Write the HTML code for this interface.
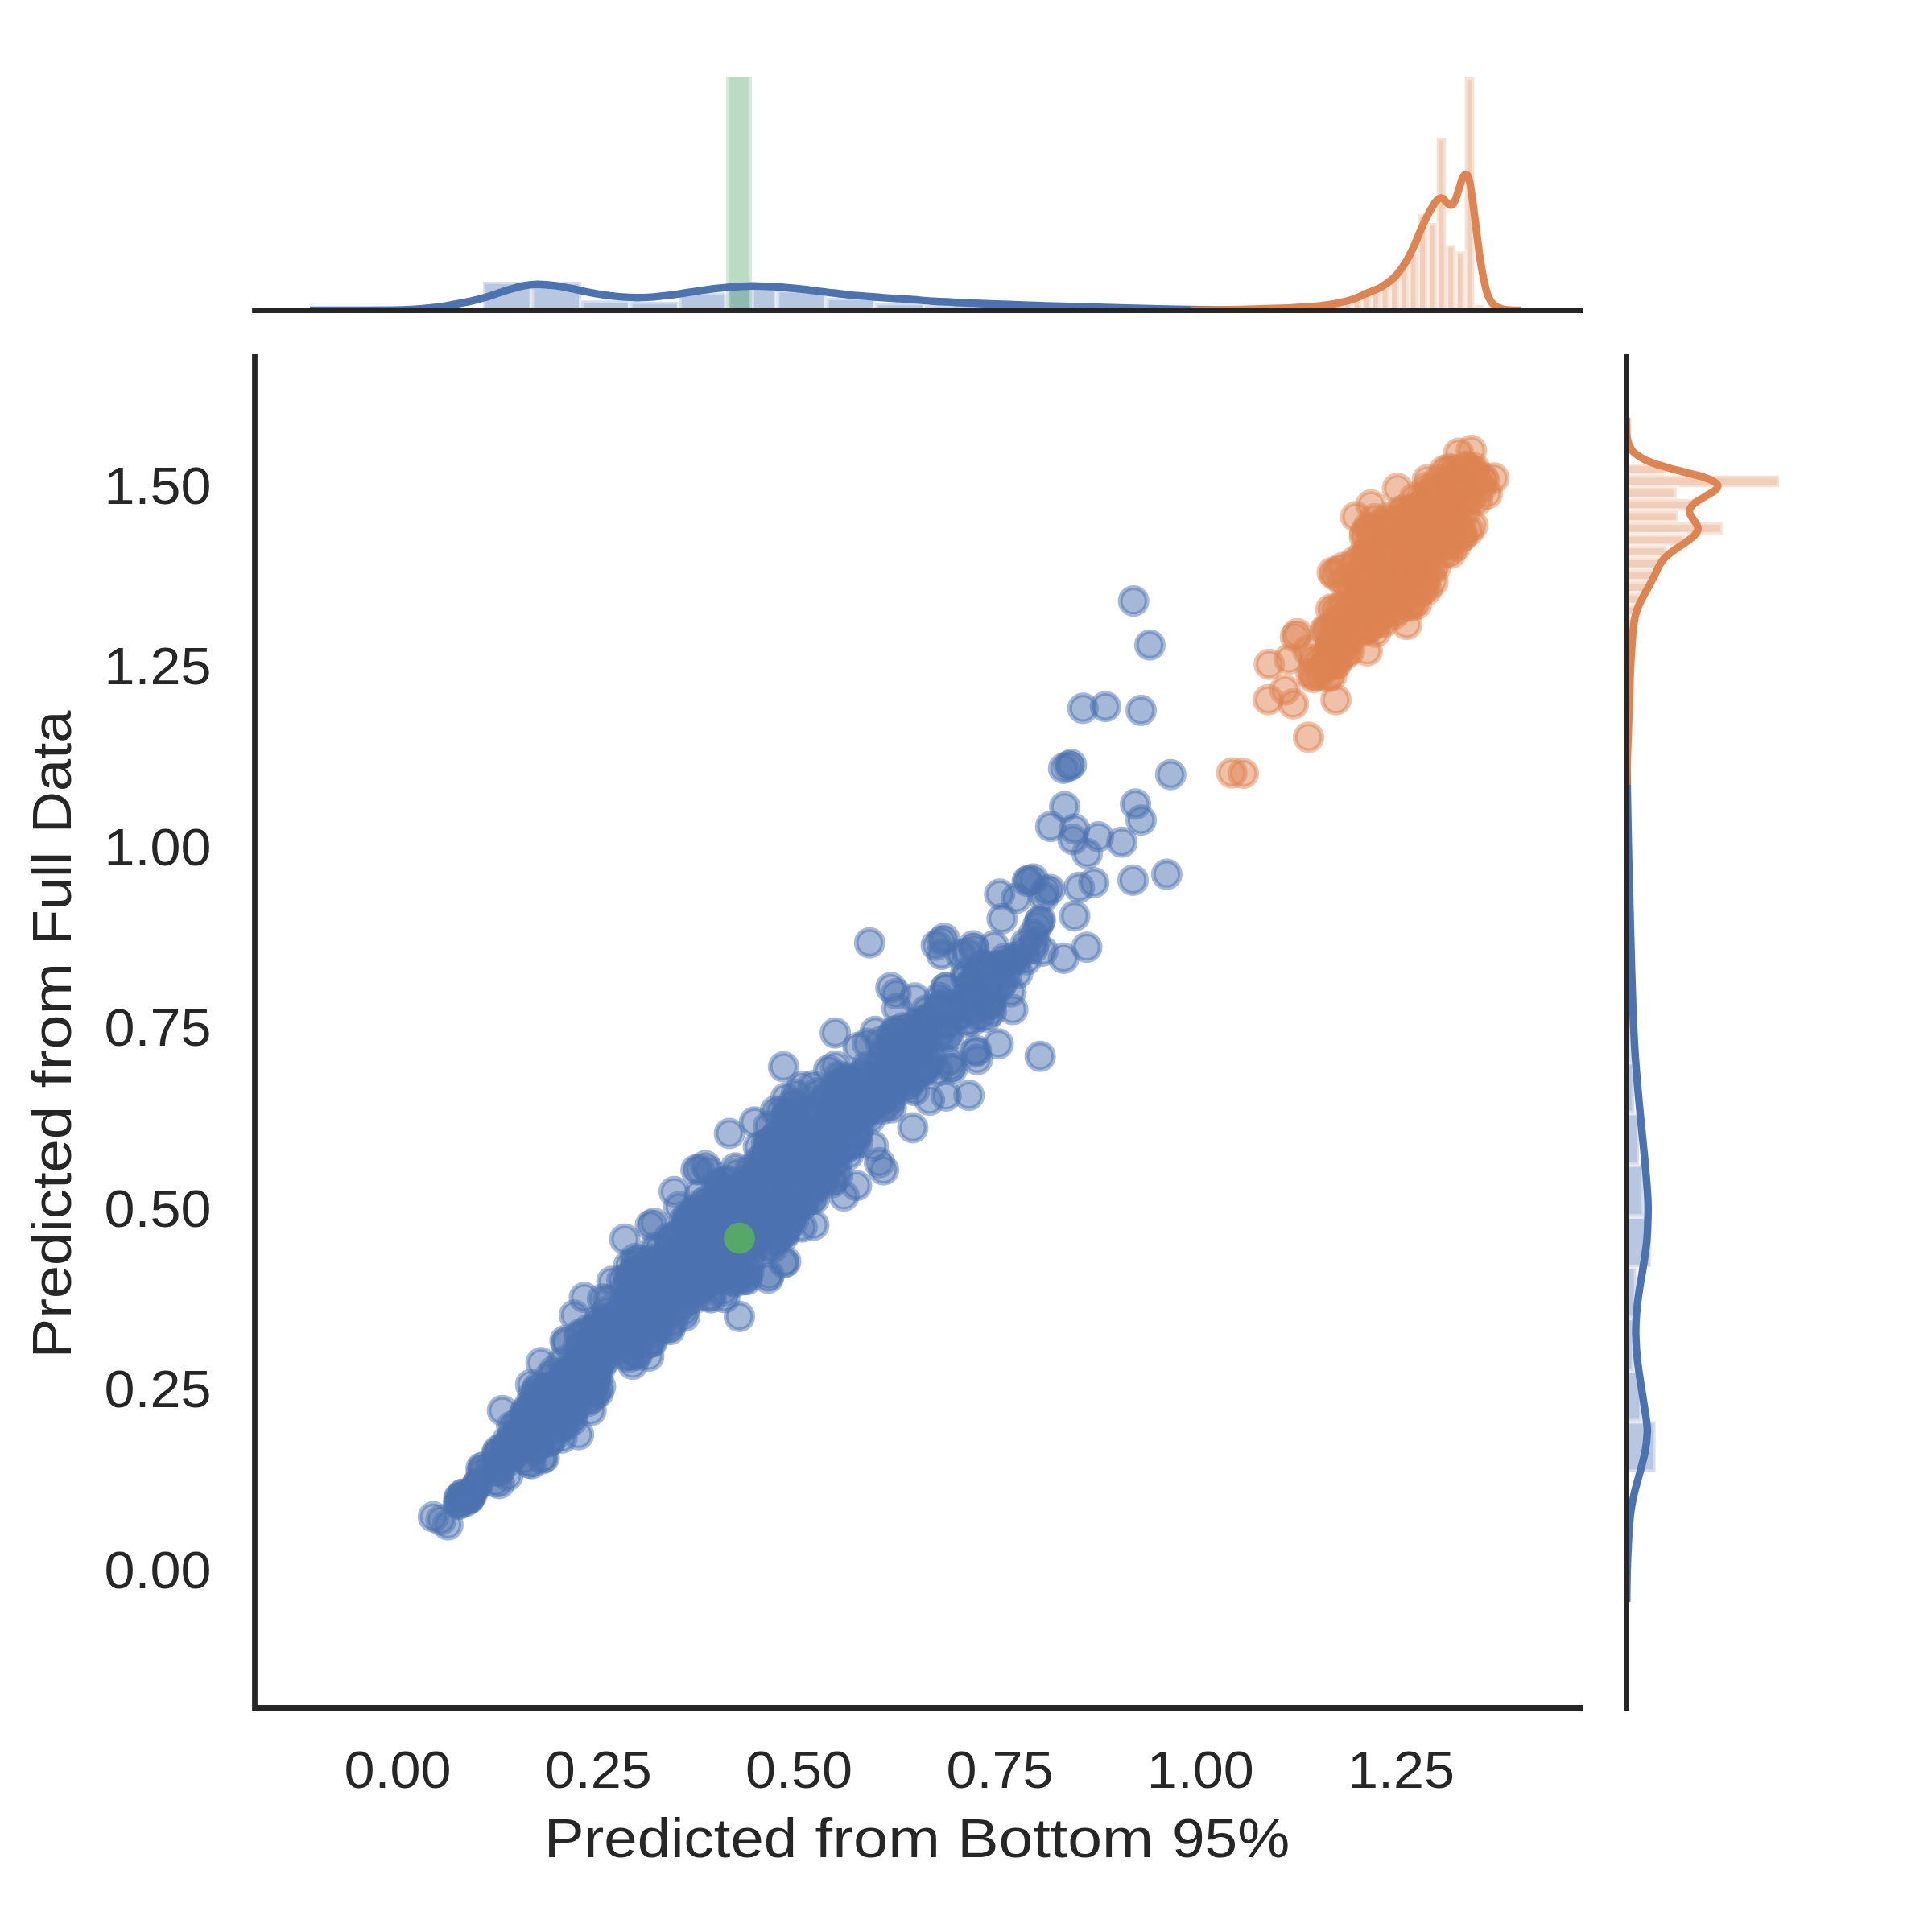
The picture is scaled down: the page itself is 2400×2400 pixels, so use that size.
<!DOCTYPE html>
<html><head><meta charset="utf-8"><title>jointplot</title>
<style>html,body{margin:0;padding:0;background:#fff}svg{display:block}</style></head>
<body>
<svg width="2400" height="2400" viewBox="0 0 2400 2400">
<rect width="2400" height="2400" fill="#fff"/>
<defs>
<circle id="b" r="16.6" fill="#4c72b0" fill-opacity=".5" stroke="#4c72b0" stroke-opacity=".5" stroke-width="5.9"/>
<circle id="o" r="16.6" fill="#dd8452" fill-opacity=".5" stroke="#dd8452" stroke-opacity=".5" stroke-width="5.9"/>
</defs>
<clipPath id="ct"><rect x="316.5" y="96" width="1647.1" height="289.5"/></clipPath>
<clipPath id="cr"><rect x="2020.5" y="443.4" width="300" height="1678.1"/></clipPath>
<g id="topm" clip-path="url(#ct)">
<g fill-opacity=".4" stroke="#fff" stroke-opacity=".4" stroke-width="5.8">
<rect x="600.2" y="350.1" width="60.3" height="45.4" fill="#4c72b0"/>
<rect x="660.5" y="350.1" width="61.5" height="45.4" fill="#4c72b0"/>
<rect x="722.0" y="373.2" width="61.0" height="22.3" fill="#4c72b0"/>
<rect x="783.0" y="374.8" width="60.8" height="20.7" fill="#4c72b0"/>
<rect x="843.8" y="363.5" width="60.7" height="32.0" fill="#4c72b0"/>
<rect x="904.5" y="351.3" width="60.8" height="44.2" fill="#4c72b0"/>
<rect x="965.3" y="360.5" width="61.5" height="35.0" fill="#4c72b0"/>
<rect x="1026.8" y="370.0" width="61.2" height="25.5" fill="#4c72b0"/>
<rect x="1088.0" y="376.4" width="61.0" height="19.1" fill="#4c72b0"/>
<rect x="1149.0" y="378.6" width="61.0" height="16.9" fill="#4c72b0"/>
<rect x="1210.0" y="380.4" width="61.0" height="15.1" fill="#4c72b0"/>
<rect x="1271.0" y="381.6" width="61.0" height="13.9" fill="#4c72b0"/>
<rect x="1831.2" y="378.9" width="11.7" height="16.6" fill="#dd8452"/>
<rect x="1819.6" y="96.1" width="11.7" height="299.4" fill="#dd8452"/>
<rect x="1807.9" y="312.3" width="11.7" height="83.2" fill="#dd8452"/>
<rect x="1796.2" y="304.3" width="11.7" height="91.2" fill="#dd8452"/>
<rect x="1784.6" y="171.4" width="11.7" height="224.1" fill="#dd8452"/>
<rect x="1772.9" y="277.0" width="11.7" height="118.5" fill="#dd8452"/>
<rect x="1761.2" y="266.2" width="11.7" height="129.3" fill="#dd8452"/>
<rect x="1749.5" y="315.5" width="11.7" height="80.0" fill="#dd8452"/>
<rect x="1737.9" y="330.8" width="11.7" height="64.7" fill="#dd8452"/>
<rect x="1726.2" y="345.2" width="11.7" height="50.3" fill="#dd8452"/>
<rect x="1714.5" y="356.5" width="11.7" height="39.0" fill="#dd8452"/>
<rect x="1702.9" y="361.3" width="11.7" height="34.2" fill="#dd8452"/>
<rect x="1691.2" y="360.0" width="11.7" height="35.5" fill="#dd8452"/>
<rect x="1679.5" y="371.5" width="11.7" height="24.0" fill="#dd8452"/>
<rect x="1667.9" y="375.5" width="11.7" height="20.0" fill="#dd8452"/>
<rect x="1656.2" y="377.5" width="11.7" height="18.0" fill="#dd8452"/>
<rect x="1644.5" y="379.5" width="11.7" height="16.0" fill="#dd8452"/>
<rect x="1632.8" y="381.0" width="11.7" height="14.5" fill="#dd8452"/>
<rect x="1621.2" y="382.0" width="11.7" height="13.5" fill="#dd8452"/>
<rect x="1609.5" y="382.8" width="11.7" height="12.7" fill="#dd8452"/>
<rect x="1597.8" y="383.3" width="11.7" height="12.2" fill="#dd8452"/>
<rect x="1586.2" y="383.8" width="11.7" height="11.7" fill="#dd8452"/>
<rect x="1574.5" y="384.2" width="11.7" height="11.3" fill="#dd8452"/>
<rect x="1562.8" y="384.5" width="11.7" height="11.0" fill="#dd8452"/>
<rect x="1551.2" y="384.8" width="11.7" height="10.7" fill="#dd8452"/>
<rect x="1539.5" y="385.0" width="11.7" height="10.5" fill="#dd8452"/>
<rect x="1527.8" y="385.0" width="11.7" height="10.5" fill="#dd8452"/>
<rect x="902.0" y="80.0" width="32.0" height="315.5" fill="#55a868"/>
</g>
<g fill="none" stroke-width="9.4" stroke-linejoin="round" stroke-linecap="butt">
<path d="M385.0 385.5C395.8 385.5 432.5 385.5 450.0 385.4C467.5 385.3 480.0 385.2 490.0 385.1C500.0 385.0 504.2 384.8 510.0 384.5C515.8 384.2 520.0 383.8 525.0 383.4C530.0 382.9 535.0 382.4 540.0 381.8C545.0 381.2 550.3 380.5 555.0 379.8C559.7 379.1 562.8 378.4 568.0 377.4C573.2 376.4 579.5 375.3 586.0 373.8C592.5 372.3 600.0 370.3 607.0 368.2C614.0 366.1 620.8 363.4 627.7 361.3C634.6 359.2 641.9 356.8 648.4 355.4C654.9 354.0 660.1 353.3 667.0 353.2C673.9 353.1 682.6 353.9 689.9 354.8C697.2 355.7 703.7 357.2 710.6 358.6C717.5 360.0 724.4 361.8 731.3 363.1C738.2 364.4 745.1 365.6 752.0 366.6C758.9 367.6 766.4 368.4 772.7 368.9C779.0 369.4 784.6 369.7 790.0 369.8C795.4 369.9 799.8 369.7 805.0 369.4C810.2 369.1 815.2 368.6 821.4 367.9C827.6 367.2 835.1 366.3 842.0 365.3C848.9 364.3 856.0 363.1 862.8 362.1C869.6 361.1 876.1 360.1 883.0 359.2C889.9 358.3 898.0 357.5 904.2 356.9C910.4 356.3 914.8 356.1 920.0 355.8C925.2 355.5 930.3 355.3 935.3 355.3C940.3 355.3 944.8 355.4 950.0 355.6C955.2 355.8 960.1 356.1 966.3 356.5C972.5 356.9 980.1 357.6 987.0 358.3C993.9 359.0 1000.9 359.8 1007.7 360.6C1014.5 361.4 1021.1 362.3 1028.0 363.1C1034.9 363.9 1042.2 364.9 1049.2 365.6C1056.2 366.4 1063.1 367.0 1070.0 367.6C1076.9 368.2 1083.8 368.8 1090.6 369.3C1097.4 369.8 1104.1 370.4 1111.0 370.8C1117.9 371.2 1123.8 371.4 1132.0 372.0C1140.2 372.6 1148.7 373.6 1160.0 374.3C1171.3 375.0 1184.5 375.6 1200.0 376.3C1215.5 377.0 1236.3 377.7 1253.0 378.3C1269.7 378.9 1284.5 379.4 1300.0 379.9C1315.5 380.4 1331.0 380.9 1346.0 381.3C1361.0 381.7 1374.4 382.1 1390.0 382.5C1405.6 382.9 1422.5 383.2 1439.5 383.6C1456.5 384.0 1475.2 384.4 1492.0 384.7C1508.8 385.0 1532.0 385.2 1540.0 385.3" stroke="#4c72b0"/>
<path d="M1480.0 385.4C1486.7 385.3 1506.7 385.1 1520.0 384.9C1533.3 384.7 1546.7 384.4 1560.0 384.0C1573.3 383.6 1589.2 383.1 1600.0 382.6C1610.8 382.1 1616.7 381.9 1625.0 381.2C1633.3 380.5 1642.2 379.8 1650.0 378.6C1657.8 377.5 1666.0 375.8 1672.0 374.3C1678.0 372.8 1681.3 371.4 1686.0 369.6C1690.7 367.8 1695.0 365.6 1700.0 363.4C1705.0 361.2 1710.7 359.7 1716.0 356.5C1721.3 353.3 1727.3 349.2 1732.1 344.4C1736.9 339.6 1741.2 333.4 1745.0 327.6C1748.8 321.9 1751.4 316.6 1754.6 309.9C1757.8 303.2 1761.3 294.1 1764.2 287.4C1767.1 280.7 1769.5 275.1 1772.2 269.8C1774.9 264.5 1778.2 258.8 1780.3 255.3C1782.4 251.8 1783.6 250.2 1785.1 248.6C1786.6 247.0 1787.9 246.3 1789.1 246.0C1790.3 245.7 1791.3 245.8 1792.5 246.6C1793.7 247.4 1795.1 249.7 1796.5 251.0C1797.9 252.3 1799.8 254.0 1801.1 254.5C1802.4 255.0 1803.4 255.0 1804.5 254.0C1805.6 253.0 1806.5 251.8 1807.8 248.5C1809.1 245.2 1811.0 238.8 1812.4 234.5C1813.8 230.2 1815.1 225.3 1816.2 222.5C1817.3 219.7 1818.2 218.8 1819.0 217.8C1819.8 216.8 1820.5 216.5 1821.2 216.6C1821.9 216.7 1822.7 217.1 1823.4 218.6C1824.1 220.1 1824.8 221.5 1825.6 225.5C1826.4 229.5 1827.4 235.7 1828.4 242.5C1829.4 249.3 1830.4 257.2 1831.6 266.6C1832.8 276.0 1834.3 288.5 1835.6 298.7C1836.9 308.9 1838.1 318.5 1839.6 327.6C1841.1 336.7 1842.9 346.4 1844.5 353.3C1846.1 360.2 1847.7 365.4 1849.3 369.3C1850.9 373.2 1852.2 374.9 1854.1 377.0C1856.0 379.1 1858.2 380.8 1860.5 382.0C1862.8 383.2 1865.3 383.8 1868.0 384.3C1870.7 384.9 1873.0 385.1 1876.6 385.3C1880.2 385.5 1887.3 385.5 1889.4 385.5" stroke="#dd8452"/>
</g>
</g>
<g id="rightm" clip-path="url(#cr)">
<g fill-opacity=".4" stroke="#fff" stroke-opacity=".4" stroke-width="5.8">
<rect x="2010.5" y="1765.5" width="46.1" height="62.7" fill="#4c72b0"/>
<rect x="2010.5" y="1702.8" width="28.7" height="62.7" fill="#4c72b0"/>
<rect x="2010.5" y="1637.2" width="19.2" height="65.6" fill="#4c72b0"/>
<rect x="2010.5" y="1573.8" width="22.1" height="63.4" fill="#4c72b0"/>
<rect x="2010.5" y="1511.1" width="40.1" height="62.7" fill="#4c72b0"/>
<rect x="2010.5" y="1446.6" width="31.2" height="64.5" fill="#4c72b0"/>
<rect x="2010.5" y="1382.4" width="25.4" height="64.2" fill="#4c72b0"/>
<rect x="2010.5" y="1319.3" width="19.8" height="63.1" fill="#4c72b0"/>
<rect x="2010.5" y="1256.2" width="16.5" height="63.1" fill="#4c72b0"/>
<rect x="2010.5" y="1193.0" width="14.7" height="63.2" fill="#4c72b0"/>
<rect x="2010.5" y="1130.0" width="13.5" height="63.0" fill="#4c72b0"/>
<rect x="2010.5" y="1067.0" width="12.5" height="63.0" fill="#4c72b0"/>
<rect x="2010.5" y="576.0" width="59.4" height="14.6" fill="#dd8452"/>
<rect x="2010.5" y="590.6" width="199.6" height="14.6" fill="#dd8452"/>
<rect x="2010.5" y="605.3" width="72.3" height="14.6" fill="#dd8452"/>
<rect x="2010.5" y="619.9" width="93.2" height="14.6" fill="#dd8452"/>
<rect x="2010.5" y="634.5" width="74.4" height="14.6" fill="#dd8452"/>
<rect x="2010.5" y="649.1" width="129.3" height="14.6" fill="#dd8452"/>
<rect x="2010.5" y="663.8" width="82.4" height="14.6" fill="#dd8452"/>
<rect x="2010.5" y="678.4" width="60.2" height="14.6" fill="#dd8452"/>
<rect x="2010.5" y="693.0" width="50.1" height="14.6" fill="#dd8452"/>
<rect x="2010.5" y="707.7" width="49.3" height="14.6" fill="#dd8452"/>
<rect x="2010.5" y="722.3" width="37.5" height="14.6" fill="#dd8452"/>
<rect x="2010.5" y="736.9" width="27.0" height="14.6" fill="#dd8452"/>
<rect x="2010.5" y="751.6" width="22.5" height="14.6" fill="#dd8452"/>
<rect x="2010.5" y="766.2" width="19.0" height="14.6" fill="#dd8452"/>
<rect x="2010.5" y="780.8" width="17.0" height="14.6" fill="#dd8452"/>
<rect x="2010.5" y="795.5" width="15.5" height="14.6" fill="#dd8452"/>
<rect x="2010.5" y="810.1" width="14.5" height="14.6" fill="#dd8452"/>
<rect x="2010.5" y="824.7" width="13.8" height="14.6" fill="#dd8452"/>
<rect x="2010.5" y="839.3" width="13.1" height="14.6" fill="#dd8452"/>
<rect x="2010.5" y="854.0" width="12.5" height="14.6" fill="#dd8452"/>
<rect x="2010.5" y="868.6" width="12.0" height="14.6" fill="#dd8452"/>
<rect x="2010.5" y="883.2" width="11.5" height="14.6" fill="#dd8452"/>
<rect x="2010.5" y="897.9" width="11.1" height="14.6" fill="#dd8452"/>
<rect x="2010.5" y="912.5" width="10.8" height="14.6" fill="#dd8452"/>
<rect x="2010.5" y="927.1" width="10.5" height="14.6" fill="#dd8452"/>
<rect x="2010.5" y="941.8" width="10.4" height="14.6" fill="#dd8452"/>
</g>
<g fill="none" stroke-width="9.4" stroke-linejoin="round" stroke-linecap="butt">
<path d="M2020.8 930.0C2021.0 941.7 2021.4 976.7 2021.8 1000.0C2022.2 1023.3 2022.7 1048.3 2023.2 1070.0C2023.7 1091.7 2024.3 1110.0 2024.8 1130.0C2025.3 1150.0 2025.8 1170.0 2026.4 1190.0C2027.0 1210.0 2027.5 1229.7 2028.3 1250.0C2029.1 1270.3 2030.0 1291.4 2031.4 1312.1C2032.8 1332.8 2034.7 1353.4 2036.6 1374.1C2038.5 1394.8 2041.2 1419.0 2042.8 1436.2C2044.4 1453.5 2045.5 1466.6 2046.3 1477.6C2047.0 1488.6 2047.4 1492.1 2047.3 1502.4C2047.2 1512.8 2046.8 1528.3 2045.9 1539.7C2045.0 1551.1 2043.2 1560.4 2041.7 1570.7C2040.2 1581.0 2038.0 1591.7 2036.6 1601.7C2035.1 1611.8 2033.8 1621.6 2033.0 1631.0C2032.2 1640.4 2031.8 1647.6 2032.0 1657.9C2032.2 1668.2 2033.0 1680.3 2034.5 1693.1C2036.0 1705.9 2038.9 1722.4 2040.7 1734.5C2042.5 1746.6 2044.5 1757.9 2045.4 1765.5C2046.3 1773.1 2046.6 1773.8 2046.3 1780.0C2046.0 1786.2 2045.2 1794.9 2043.8 1802.8C2042.3 1810.7 2039.8 1819.0 2037.6 1827.6C2035.3 1836.2 2032.3 1845.9 2030.3 1854.5C2028.3 1863.1 2026.8 1870.0 2025.6 1879.3C2024.4 1888.6 2023.8 1898.5 2023.1 1910.3C2022.4 1922.1 2021.8 1936.7 2021.4 1950.0C2021.0 1963.3 2020.8 1983.3 2020.7 1990.0" stroke="#4c72b0"/>
<path d="M2020.5 519.0C2020.5 520.8 2020.5 526.7 2020.6 530.0C2020.7 533.3 2020.7 536.3 2020.9 539.0C2021.1 541.7 2021.3 543.8 2021.8 546.0C2022.2 548.2 2022.8 550.4 2023.6 552.4C2024.4 554.4 2025.4 556.2 2026.6 558.0C2027.8 559.8 2027.7 560.9 2031.0 563.3C2034.3 565.7 2040.1 569.8 2046.6 572.6C2053.1 575.5 2062.1 578.1 2069.9 580.4C2077.7 582.7 2085.4 584.5 2093.2 586.6C2101.0 588.7 2110.6 590.9 2116.5 592.8C2122.4 594.7 2126.0 596.5 2128.9 598.2C2131.8 599.9 2133.7 601.1 2133.9 602.9C2134.2 604.7 2133.1 606.8 2130.4 609.1C2127.8 611.4 2122.1 614.3 2118.0 616.9C2113.9 619.5 2108.7 622.1 2105.6 624.6C2102.5 627.1 2100.5 629.5 2099.4 631.6C2098.3 633.7 2098.4 634.9 2098.9 637.0C2099.4 639.1 2101.0 641.5 2102.5 644.0C2104.0 646.5 2106.8 649.5 2107.9 651.8C2109.0 654.1 2109.6 655.9 2109.2 658.0C2108.8 660.1 2107.8 661.9 2105.6 664.2C2103.4 666.5 2099.9 669.3 2096.3 672.0C2092.7 674.7 2088.1 677.5 2083.9 680.5C2079.8 683.5 2074.8 686.8 2071.4 689.8C2068.0 692.8 2065.8 695.5 2063.7 698.4C2061.6 701.2 2060.6 703.8 2059.0 706.9C2057.4 710.0 2056.1 713.4 2054.3 717.0C2052.5 720.6 2050.3 724.7 2048.1 728.7C2045.9 732.7 2043.3 736.8 2041.1 741.1C2038.9 745.4 2036.6 750.0 2034.9 754.3C2033.2 758.6 2032.1 762.1 2031.1 766.7C2030.1 771.4 2029.3 776.5 2028.7 782.2C2028.1 787.9 2027.7 793.4 2027.2 800.9C2026.7 808.4 2026.1 817.4 2025.6 827.3C2025.1 837.1 2024.8 847.9 2024.4 860.0C2024.0 872.1 2023.5 886.7 2023.0 900.0C2022.5 913.3 2022.0 927.5 2021.6 940.0C2021.2 952.5 2020.8 969.2 2020.7 975.0" stroke="#dd8452"/>
</g>
</g>
<g id="sc">
<use href="#b" x="1158.3" y="1314.4"/>
<use href="#b" x="884.5" y="1522.9"/>
<use href="#b" x="936.4" y="1465.6"/>
<use href="#b" x="1011.3" y="1437.8"/>
<use href="#b" x="987.7" y="1499.9"/>
<use href="#b" x="969.4" y="1442.8"/>
<use href="#b" x="1004.8" y="1452.8"/>
<use href="#b" x="1036.4" y="1444.2"/>
<use href="#b" x="664.5" y="1744.6"/>
<use href="#b" x="884.0" y="1529.6"/>
<use href="#b" x="723.8" y="1674.1"/>
<use href="#b" x="1274.0" y="1172.1"/>
<use href="#b" x="1004.8" y="1408.4"/>
<use href="#b" x="796.4" y="1586.5"/>
<use href="#b" x="1054.9" y="1419.6"/>
<use href="#b" x="1064.5" y="1374.6"/>
<use href="#b" x="789.1" y="1612.2"/>
<use href="#b" x="1247.9" y="1190.9"/>
<use href="#b" x="1074.2" y="1387.2"/>
<use href="#b" x="668.6" y="1796.5"/>
<use href="#b" x="831.8" y="1601.1"/>
<use href="#b" x="1106.1" y="1341.5"/>
<use href="#b" x="992.1" y="1465.6"/>
<use href="#b" x="618.0" y="1807.3"/>
<use href="#b" x="750.3" y="1638.3"/>
<use href="#b" x="943.4" y="1517.0"/>
<use href="#b" x="654.8" y="1796.5"/>
<use href="#b" x="653.3" y="1789.0"/>
<use href="#b" x="978.1" y="1423.0"/>
<use href="#b" x="1200.6" y="1269.4"/>
<use href="#b" x="999.2" y="1441.2"/>
<use href="#b" x="667.9" y="1723.4"/>
<use href="#b" x="807.9" y="1638.9"/>
<use href="#b" x="737.0" y="1653.7"/>
<use href="#b" x="925.5" y="1524.1"/>
<use href="#b" x="864.0" y="1508.3"/>
<use href="#b" x="825.1" y="1584.2"/>
<use href="#b" x="682.7" y="1790.8"/>
<use href="#b" x="729.7" y="1678.1"/>
<use href="#b" x="1151.6" y="1291.5"/>
<use href="#b" x="921.1" y="1491.6"/>
<use href="#b" x="628.4" y="1791.9"/>
<use href="#b" x="1255.8" y="1196.5"/>
<use href="#b" x="1022.7" y="1371.1"/>
<use href="#b" x="886.5" y="1589.7"/>
<use href="#b" x="737.6" y="1697.1"/>
<use href="#b" x="743.1" y="1729.9"/>
<use href="#b" x="1042.3" y="1383.1"/>
<use href="#b" x="887.0" y="1514.9"/>
<use href="#b" x="1003.9" y="1443.2"/>
<use href="#b" x="1028.7" y="1424.2"/>
<use href="#b" x="967.2" y="1432.7"/>
<use href="#b" x="739.6" y="1687.8"/>
<use href="#b" x="1084.6" y="1359.6"/>
<use href="#b" x="904.8" y="1582.5"/>
<use href="#b" x="949.9" y="1434.9"/>
<use href="#b" x="1185.2" y="1253.8"/>
<use href="#b" x="652.9" y="1757.8"/>
<use href="#b" x="790.2" y="1577.7"/>
<use href="#b" x="773.1" y="1620.0"/>
<use href="#b" x="1125.4" y="1341.9"/>
<use href="#b" x="878.6" y="1509.8"/>
<use href="#b" x="625.1" y="1808.4"/>
<use href="#b" x="895.9" y="1479.6"/>
<use href="#b" x="1164.6" y="1330.0"/>
<use href="#b" x="1142.3" y="1313.6"/>
<use href="#b" x="947.5" y="1507.4"/>
<use href="#b" x="787.5" y="1632.3"/>
<use href="#b" x="574.4" y="1856.6"/>
<use href="#b" x="1283.5" y="1177.9"/>
<use href="#b" x="685.6" y="1787.9"/>
<use href="#b" x="1089.9" y="1343.0"/>
<use href="#b" x="1167.3" y="1249.5"/>
<use href="#b" x="995.5" y="1422.7"/>
<use href="#b" x="689.9" y="1744.6"/>
<use href="#b" x="906.1" y="1578.3"/>
<use href="#b" x="1062.7" y="1359.0"/>
<use href="#b" x="725.2" y="1671.1"/>
<use href="#b" x="963.2" y="1380.1"/>
<use href="#b" x="901.3" y="1555.7"/>
<use href="#b" x="753.9" y="1643.7"/>
<use href="#b" x="1015.0" y="1358.4"/>
<use href="#b" x="1032.0" y="1412.0"/>
<use href="#b" x="871.4" y="1495.2"/>
<use href="#b" x="686.2" y="1776.3"/>
<use href="#b" x="899.7" y="1509.4"/>
<use href="#b" x="1231.3" y="1239.8"/>
<use href="#b" x="939.0" y="1538.3"/>
<use href="#b" x="970.5" y="1442.8"/>
<use href="#b" x="941.1" y="1513.1"/>
<use href="#b" x="1239.3" y="1199.2"/>
<use href="#b" x="784.9" y="1652.0"/>
<use href="#b" x="756.0" y="1614.6"/>
<use href="#b" x="1011.3" y="1476.0"/>
<use href="#b" x="880.4" y="1525.7"/>
<use href="#b" x="853.7" y="1573.1"/>
<use href="#b" x="976.3" y="1387.8"/>
<use href="#b" x="781.0" y="1634.0"/>
<use href="#b" x="1148.4" y="1326.1"/>
<use href="#b" x="787.0" y="1658.9"/>
<use href="#b" x="1024.7" y="1396.7"/>
<use href="#b" x="813.4" y="1549.8"/>
<use href="#b" x="975.3" y="1455.6"/>
<use href="#b" x="1027.0" y="1449.4"/>
<use href="#b" x="900.3" y="1476.4"/>
<use href="#b" x="965.2" y="1536.3"/>
<use href="#b" x="698.1" y="1786.5"/>
<use href="#b" x="1029.6" y="1403.7"/>
<use href="#b" x="1106.6" y="1287.8"/>
<use href="#b" x="1170.7" y="1252.5"/>
<use href="#b" x="1052.1" y="1350.7"/>
<use href="#b" x="1093.5" y="1368.2"/>
<use href="#b" x="1232.6" y="1210.7"/>
<use href="#b" x="937.4" y="1514.3"/>
<use href="#b" x="881.2" y="1610.4"/>
<use href="#b" x="870.2" y="1559.4"/>
<use href="#b" x="637.1" y="1807.9"/>
<use href="#b" x="925.7" y="1465.7"/>
<use href="#b" x="721.4" y="1671.3"/>
<use href="#b" x="865.0" y="1605.7"/>
<use href="#b" x="912.6" y="1572.4"/>
<use href="#b" x="810.0" y="1667.3"/>
<use href="#b" x="1231.5" y="1247.0"/>
<use href="#b" x="1044.0" y="1372.5"/>
<use href="#b" x="890.0" y="1566.1"/>
<use href="#b" x="1110.0" y="1300.9"/>
<use href="#b" x="582.8" y="1861.0"/>
<use href="#b" x="712.0" y="1700.5"/>
<use href="#b" x="816.2" y="1648.9"/>
<use href="#b" x="914.2" y="1581.3"/>
<use href="#b" x="899.6" y="1537.9"/>
<use href="#b" x="830.1" y="1612.0"/>
<use href="#b" x="927.8" y="1589.7"/>
<use href="#b" x="679.6" y="1757.7"/>
<use href="#b" x="676.1" y="1767.7"/>
<use href="#b" x="955.9" y="1547.3"/>
<use href="#b" x="682.7" y="1710.3"/>
<use href="#b" x="812.6" y="1606.2"/>
<use href="#b" x="1145.0" y="1284.7"/>
<use href="#b" x="942.1" y="1548.8"/>
<use href="#b" x="738.4" y="1649.2"/>
<use href="#b" x="860.8" y="1526.5"/>
<use href="#b" x="682.7" y="1723.3"/>
<use href="#b" x="1004.2" y="1386.0"/>
<use href="#b" x="890.1" y="1470.2"/>
<use href="#b" x="785.5" y="1665.9"/>
<use href="#b" x="786.3" y="1638.3"/>
<use href="#b" x="1285.5" y="1169.7"/>
<use href="#b" x="1029.3" y="1393.4"/>
<use href="#b" x="803.6" y="1623.2"/>
<use href="#b" x="1066.4" y="1363.6"/>
<use href="#b" x="770.1" y="1652.5"/>
<use href="#b" x="904.1" y="1466.7"/>
<use href="#b" x="790.3" y="1583.4"/>
<use href="#b" x="810.0" y="1646.1"/>
<use href="#b" x="1009.9" y="1348.7"/>
<use href="#b" x="1191.3" y="1261.4"/>
<use href="#b" x="1038.2" y="1378.6"/>
<use href="#b" x="1131.1" y="1343.7"/>
<use href="#b" x="1275.1" y="1192.2"/>
<use href="#b" x="989.3" y="1359.2"/>
<use href="#b" x="975.4" y="1530.7"/>
<use href="#b" x="920.4" y="1518.4"/>
<use href="#b" x="974.6" y="1462.2"/>
<use href="#b" x="1140.5" y="1288.7"/>
<use href="#b" x="820.2" y="1599.3"/>
<use href="#b" x="707.2" y="1730.1"/>
<use href="#b" x="698.3" y="1715.2"/>
<use href="#b" x="569.8" y="1868.8"/>
<use href="#b" x="707.7" y="1700.3"/>
<use href="#b" x="947.6" y="1452.4"/>
<use href="#b" x="682.4" y="1790.1"/>
<use href="#b" x="832.5" y="1574.6"/>
<use href="#b" x="979.0" y="1502.0"/>
<use href="#b" x="1221.2" y="1199.9"/>
<use href="#b" x="950.8" y="1439.0"/>
<use href="#b" x="933.2" y="1566.0"/>
<use href="#b" x="931.7" y="1452.9"/>
<use href="#b" x="1063.8" y="1411.5"/>
<use href="#b" x="883.8" y="1565.8"/>
<use href="#b" x="901.2" y="1578.8"/>
<use href="#b" x="914.2" y="1532.3"/>
<use href="#b" x="702.5" y="1771.5"/>
<use href="#b" x="915.3" y="1457.1"/>
<use href="#b" x="727.2" y="1714.4"/>
<use href="#b" x="755.0" y="1681.2"/>
<use href="#b" x="794.7" y="1595.2"/>
<use href="#b" x="1132.8" y="1290.4"/>
<use href="#b" x="830.6" y="1553.1"/>
<use href="#b" x="1124.2" y="1342.1"/>
<use href="#b" x="699.2" y="1770.9"/>
<use href="#b" x="788.0" y="1630.7"/>
<use href="#b" x="733.9" y="1681.1"/>
<use href="#b" x="629.0" y="1797.1"/>
<use href="#b" x="729.9" y="1652.1"/>
<use href="#b" x="712.3" y="1706.1"/>
<use href="#b" x="682.3" y="1745.9"/>
<use href="#b" x="1008.4" y="1415.6"/>
<use href="#b" x="1220.9" y="1198.2"/>
<use href="#b" x="736.8" y="1713.4"/>
<use href="#b" x="1047.4" y="1344.3"/>
<use href="#b" x="1077.5" y="1381.0"/>
<use href="#b" x="738.9" y="1715.1"/>
<use href="#b" x="795.7" y="1594.4"/>
<use href="#b" x="844.9" y="1572.7"/>
<use href="#b" x="724.0" y="1691.4"/>
<use href="#b" x="1017.6" y="1447.1"/>
<use href="#b" x="863.0" y="1551.4"/>
<use href="#b" x="870.1" y="1602.0"/>
<use href="#b" x="841.9" y="1581.8"/>
<use href="#b" x="751.5" y="1653.2"/>
<use href="#b" x="827.6" y="1613.8"/>
<use href="#b" x="694.5" y="1749.1"/>
<use href="#b" x="1103.9" y="1358.7"/>
<use href="#b" x="731.3" y="1703.8"/>
<use href="#b" x="678.1" y="1749.2"/>
<use href="#b" x="945.9" y="1480.2"/>
<use href="#b" x="1031.1" y="1402.7"/>
<use href="#b" x="1038.3" y="1385.7"/>
<use href="#b" x="1225.9" y="1249.4"/>
<use href="#b" x="1149.1" y="1267.9"/>
<use href="#b" x="753.9" y="1664.5"/>
<use href="#b" x="593.4" y="1843.8"/>
<use href="#b" x="697.7" y="1748.9"/>
<use href="#b" x="1024.2" y="1466.5"/>
<use href="#b" x="1048.0" y="1426.3"/>
<use href="#b" x="908.6" y="1483.3"/>
<use href="#b" x="736.7" y="1670.6"/>
<use href="#b" x="999.1" y="1434.3"/>
<use href="#b" x="945.6" y="1531.5"/>
<use href="#b" x="675.4" y="1728.5"/>
<use href="#b" x="880.3" y="1582.4"/>
<use href="#b" x="1066.1" y="1402.7"/>
<use href="#b" x="856.7" y="1577.2"/>
<use href="#b" x="1206.8" y="1254.6"/>
<use href="#b" x="795.7" y="1586.1"/>
<use href="#b" x="792.6" y="1650.8"/>
<use href="#b" x="899.7" y="1548.2"/>
<use href="#b" x="600.3" y="1822.6"/>
<use href="#b" x="1142.7" y="1332.3"/>
<use href="#b" x="1031.4" y="1419.0"/>
<use href="#b" x="942.4" y="1503.1"/>
<use href="#b" x="885.4" y="1497.3"/>
<use href="#b" x="1076.5" y="1324.9"/>
<use href="#b" x="738.8" y="1732.1"/>
<use href="#b" x="1040.7" y="1459.7"/>
<use href="#b" x="758.6" y="1660.1"/>
<use href="#b" x="684.6" y="1760.9"/>
<use href="#b" x="848.5" y="1596.6"/>
<use href="#b" x="960.3" y="1524.6"/>
<use href="#b" x="954.4" y="1399.3"/>
<use href="#b" x="1078.3" y="1367.7"/>
<use href="#b" x="1044.1" y="1408.5"/>
<use href="#b" x="615.6" y="1840.6"/>
<use href="#b" x="942.1" y="1424.5"/>
<use href="#b" x="905.6" y="1480.9"/>
<use href="#b" x="741.6" y="1696.4"/>
<use href="#b" x="1018.7" y="1422.6"/>
<use href="#b" x="750.9" y="1689.9"/>
<use href="#b" x="1088.5" y="1370.2"/>
<use href="#b" x="1176.1" y="1272.2"/>
<use href="#b" x="709.7" y="1703.5"/>
<use href="#b" x="1039.3" y="1432.0"/>
<use href="#b" x="875.4" y="1594.5"/>
<use href="#b" x="964.6" y="1484.6"/>
<use href="#b" x="701.9" y="1704.0"/>
<use href="#b" x="988.0" y="1384.3"/>
<use href="#b" x="1015.6" y="1429.7"/>
<use href="#b" x="1048.0" y="1378.7"/>
<use href="#b" x="684.7" y="1765.9"/>
<use href="#b" x="1217.0" y="1262.5"/>
<use href="#b" x="695.7" y="1742.3"/>
<use href="#b" x="701.9" y="1746.9"/>
<use href="#b" x="686.6" y="1767.1"/>
<use href="#b" x="864.8" y="1502.1"/>
<use href="#b" x="1036.1" y="1349.8"/>
<use href="#b" x="739.6" y="1712.1"/>
<use href="#b" x="829.1" y="1582.7"/>
<use href="#b" x="738.5" y="1720.3"/>
<use href="#b" x="863.8" y="1601.1"/>
<use href="#b" x="975.3" y="1505.9"/>
<use href="#b" x="1050.9" y="1399.7"/>
<use href="#b" x="663.6" y="1801.2"/>
<use href="#b" x="727.0" y="1705.0"/>
<use href="#b" x="901.8" y="1554.1"/>
<use href="#b" x="1123.6" y="1301.0"/>
<use href="#b" x="963.2" y="1411.9"/>
<use href="#b" x="1005.0" y="1436.2"/>
<use href="#b" x="921.5" y="1514.8"/>
<use href="#b" x="887.4" y="1583.3"/>
<use href="#b" x="973.6" y="1441.6"/>
<use href="#b" x="864.5" y="1612.1"/>
<use href="#b" x="1129.5" y="1325.2"/>
<use href="#b" x="985.5" y="1474.2"/>
<use href="#b" x="1012.5" y="1464.3"/>
<use href="#b" x="791.4" y="1683.8"/>
<use href="#b" x="1037.7" y="1428.3"/>
<use href="#b" x="900.3" y="1481.1"/>
<use href="#b" x="944.2" y="1529.6"/>
<use href="#b" x="833.8" y="1600.5"/>
<use href="#b" x="1090.2" y="1352.0"/>
<use href="#b" x="914.9" y="1490.5"/>
<use href="#b" x="1010.6" y="1404.0"/>
<use href="#b" x="1205.2" y="1221.8"/>
<use href="#b" x="955.1" y="1499.2"/>
<use href="#b" x="590.8" y="1847.7"/>
<use href="#b" x="649.4" y="1779.4"/>
<use href="#b" x="1007.3" y="1412.8"/>
<use href="#b" x="790.9" y="1670.0"/>
<use href="#b" x="783.6" y="1667.7"/>
<use href="#b" x="864.3" y="1554.8"/>
<use href="#b" x="620.1" y="1827.9"/>
<use href="#b" x="964.9" y="1518.6"/>
<use href="#b" x="973.8" y="1440.7"/>
<use href="#b" x="833.9" y="1590.0"/>
<use href="#b" x="918.9" y="1585.9"/>
<use href="#b" x="1200.8" y="1235.9"/>
<use href="#b" x="736.6" y="1725.8"/>
<use href="#b" x="894.5" y="1584.7"/>
<use href="#b" x="856.7" y="1513.2"/>
<use href="#b" x="1243.0" y="1225.1"/>
<use href="#b" x="752.6" y="1676.6"/>
<use href="#b" x="1081.3" y="1389.8"/>
<use href="#b" x="744.9" y="1694.0"/>
<use href="#b" x="734.3" y="1737.4"/>
<use href="#b" x="1107.2" y="1376.1"/>
<use href="#b" x="855.7" y="1515.1"/>
<use href="#b" x="777.1" y="1670.0"/>
<use href="#b" x="933.7" y="1510.0"/>
<use href="#b" x="720.8" y="1707.6"/>
<use href="#b" x="1091.1" y="1343.6"/>
<use href="#b" x="1067.8" y="1345.0"/>
<use href="#b" x="902.6" y="1575.7"/>
<use href="#b" x="925.4" y="1484.3"/>
<use href="#b" x="810.0" y="1572.6"/>
<use href="#b" x="641.6" y="1769.2"/>
<use href="#b" x="933.3" y="1475.7"/>
<use href="#b" x="914.2" y="1556.6"/>
<use href="#b" x="1053.2" y="1338.0"/>
<use href="#b" x="1103.8" y="1320.4"/>
<use href="#b" x="966.9" y="1456.3"/>
<use href="#b" x="814.9" y="1615.2"/>
<use href="#b" x="729.8" y="1678.8"/>
<use href="#b" x="666.6" y="1727.6"/>
<use href="#b" x="742.8" y="1673.6"/>
<use href="#b" x="878.4" y="1490.7"/>
<use href="#b" x="962.7" y="1484.0"/>
<use href="#b" x="941.0" y="1541.7"/>
<use href="#b" x="974.7" y="1518.0"/>
<use href="#b" x="930.3" y="1469.8"/>
<use href="#b" x="824.7" y="1630.4"/>
<use href="#b" x="643.9" y="1781.7"/>
<use href="#b" x="784.2" y="1622.0"/>
<use href="#b" x="1021.4" y="1425.4"/>
<use href="#b" x="1000.7" y="1489.6"/>
<use href="#b" x="929.8" y="1521.1"/>
<use href="#b" x="928.2" y="1510.4"/>
<use href="#b" x="893.1" y="1520.3"/>
<use href="#b" x="710.9" y="1764.6"/>
<use href="#b" x="894.9" y="1531.0"/>
<use href="#b" x="952.9" y="1529.1"/>
<use href="#b" x="1033.3" y="1433.9"/>
<use href="#b" x="1098.6" y="1305.4"/>
<use href="#b" x="833.0" y="1603.5"/>
<use href="#b" x="730.8" y="1696.7"/>
<use href="#b" x="781.4" y="1571.2"/>
<use href="#b" x="1004.2" y="1432.1"/>
<use href="#b" x="1113.4" y="1280.4"/>
<use href="#b" x="987.1" y="1372.9"/>
<use href="#b" x="915.2" y="1519.0"/>
<use href="#b" x="838.7" y="1565.4"/>
<use href="#b" x="716.4" y="1746.0"/>
<use href="#b" x="908.9" y="1571.6"/>
<use href="#b" x="690.4" y="1751.6"/>
<use href="#b" x="690.3" y="1751.3"/>
<use href="#b" x="1214.9" y="1207.9"/>
<use href="#b" x="925.7" y="1536.2"/>
<use href="#b" x="930.2" y="1580.0"/>
<use href="#b" x="652.9" y="1753.3"/>
<use href="#b" x="1080.5" y="1378.7"/>
<use href="#b" x="825.1" y="1610.0"/>
<use href="#b" x="657.4" y="1786.9"/>
<use href="#b" x="903.2" y="1578.8"/>
<use href="#b" x="894.1" y="1532.8"/>
<use href="#b" x="794.5" y="1642.5"/>
<use href="#b" x="713.4" y="1714.7"/>
<use href="#b" x="982.3" y="1401.6"/>
<use href="#b" x="725.5" y="1730.0"/>
<use href="#b" x="784.0" y="1605.3"/>
<use href="#b" x="1010.4" y="1454.6"/>
<use href="#b" x="794.3" y="1565.5"/>
<use href="#b" x="1053.6" y="1343.8"/>
<use href="#b" x="1046.9" y="1381.7"/>
<use href="#b" x="966.3" y="1519.3"/>
<use href="#b" x="895.8" y="1569.7"/>
<use href="#b" x="1106.2" y="1300.9"/>
<use href="#b" x="635.5" y="1802.0"/>
<use href="#b" x="808.4" y="1642.1"/>
<use href="#b" x="973.1" y="1474.5"/>
<use href="#b" x="733.7" y="1708.5"/>
<use href="#b" x="955.6" y="1419.7"/>
<use href="#b" x="776.0" y="1647.5"/>
<use href="#b" x="794.3" y="1669.8"/>
<use href="#b" x="1026.3" y="1412.4"/>
<use href="#b" x="1002.3" y="1418.5"/>
<use href="#b" x="828.0" y="1594.2"/>
<use href="#b" x="996.4" y="1497.5"/>
<use href="#b" x="1199.8" y="1214.6"/>
<use href="#b" x="985.8" y="1438.7"/>
<use href="#b" x="1225.6" y="1263.5"/>
<use href="#b" x="1037.2" y="1373.7"/>
<use href="#b" x="916.7" y="1561.6"/>
<use href="#b" x="1166.9" y="1239.3"/>
<use href="#b" x="1244.7" y="1198.9"/>
<use href="#b" x="851.4" y="1524.1"/>
<use href="#b" x="947.5" y="1521.5"/>
<use href="#b" x="653.6" y="1789.1"/>
<use href="#b" x="1053.8" y="1434.7"/>
<use href="#b" x="805.4" y="1647.4"/>
<use href="#b" x="717.8" y="1673.9"/>
<use href="#b" x="676.9" y="1733.0"/>
<use href="#b" x="796.9" y="1647.3"/>
<use href="#b" x="1128.5" y="1346.6"/>
<use href="#b" x="1135.9" y="1354.7"/>
<use href="#b" x="1170.8" y="1246.3"/>
<use href="#b" x="857.8" y="1510.1"/>
<use href="#b" x="894.9" y="1522.2"/>
<use href="#b" x="677.8" y="1730.4"/>
<use href="#b" x="698.5" y="1691.4"/>
<use href="#b" x="1039.8" y="1378.5"/>
<use href="#b" x="689.8" y="1729.0"/>
<use href="#b" x="1262.4" y="1192.0"/>
<use href="#b" x="966.4" y="1509.7"/>
<use href="#b" x="1035.3" y="1401.1"/>
<use href="#b" x="965.6" y="1476.6"/>
<use href="#b" x="597.7" y="1823.8"/>
<use href="#b" x="912.3" y="1592.5"/>
<use href="#b" x="897.2" y="1588.9"/>
<use href="#b" x="983.3" y="1399.8"/>
<use href="#b" x="796.9" y="1641.5"/>
<use href="#b" x="620.6" y="1815.6"/>
<use href="#b" x="932.8" y="1471.1"/>
<use href="#b" x="569.7" y="1867.5"/>
<use href="#b" x="1228.3" y="1247.4"/>
<use href="#b" x="710.6" y="1753.8"/>
<use href="#b" x="628.8" y="1798.9"/>
<use href="#b" x="1078.8" y="1353.0"/>
<use href="#b" x="837.4" y="1581.1"/>
<use href="#b" x="661.9" y="1733.6"/>
<use href="#b" x="1041.5" y="1389.2"/>
<use href="#b" x="1046.4" y="1359.2"/>
<use href="#b" x="795.7" y="1632.0"/>
<use href="#b" x="657.5" y="1746.0"/>
<use href="#b" x="794.2" y="1650.8"/>
<use href="#b" x="745.0" y="1680.1"/>
<use href="#b" x="649.1" y="1771.6"/>
<use href="#b" x="780.4" y="1683.4"/>
<use href="#b" x="1042.4" y="1336.7"/>
<use href="#b" x="878.5" y="1567.1"/>
<use href="#b" x="811.8" y="1598.7"/>
<use href="#b" x="780.3" y="1586.4"/>
<use href="#b" x="770.3" y="1629.9"/>
<use href="#b" x="1104.4" y="1372.2"/>
<use href="#b" x="1062.4" y="1357.9"/>
<use href="#b" x="711.8" y="1720.6"/>
<use href="#b" x="1029.3" y="1420.9"/>
<use href="#b" x="1052.0" y="1352.9"/>
<use href="#b" x="708.2" y="1752.4"/>
<use href="#b" x="662.6" y="1745.2"/>
<use href="#b" x="720.5" y="1659.7"/>
<use href="#b" x="848.2" y="1567.3"/>
<use href="#b" x="877.0" y="1506.5"/>
<use href="#b" x="863.0" y="1572.1"/>
<use href="#b" x="879.1" y="1532.6"/>
<use href="#b" x="962.1" y="1423.5"/>
<use href="#b" x="641.7" y="1778.1"/>
<use href="#b" x="1245.1" y="1221.2"/>
<use href="#b" x="635.6" y="1771.8"/>
<use href="#b" x="637.6" y="1782.8"/>
<use href="#b" x="1144.4" y="1285.3"/>
<use href="#b" x="976.8" y="1384.0"/>
<use href="#b" x="839.0" y="1535.9"/>
<use href="#b" x="1053.7" y="1375.7"/>
<use href="#b" x="976.1" y="1521.1"/>
<use href="#b" x="990.6" y="1396.3"/>
<use href="#b" x="820.0" y="1635.7"/>
<use href="#b" x="969.2" y="1426.2"/>
<use href="#b" x="1121.9" y="1335.9"/>
<use href="#b" x="1006.3" y="1431.0"/>
<use href="#b" x="631.6" y="1794.1"/>
<use href="#b" x="781.5" y="1610.5"/>
<use href="#b" x="853.3" y="1523.2"/>
<use href="#b" x="1033.8" y="1417.7"/>
<use href="#b" x="964.4" y="1418.3"/>
<use href="#b" x="932.1" y="1557.1"/>
<use href="#b" x="1124.9" y="1320.3"/>
<use href="#b" x="720.4" y="1657.3"/>
<use href="#b" x="831.1" y="1537.9"/>
<use href="#b" x="1111.0" y="1281.2"/>
<use href="#b" x="868.8" y="1482.7"/>
<use href="#b" x="807.7" y="1635.6"/>
<use href="#b" x="973.7" y="1535.4"/>
<use href="#b" x="818.4" y="1551.3"/>
<use href="#b" x="921.5" y="1486.9"/>
<use href="#b" x="699.6" y="1710.3"/>
<use href="#b" x="1126.3" y="1351.2"/>
<use href="#b" x="1026.6" y="1362.4"/>
<use href="#b" x="854.4" y="1615.2"/>
<use href="#b" x="649.2" y="1774.8"/>
<use href="#b" x="671.6" y="1786.8"/>
<use href="#b" x="960.3" y="1451.7"/>
<use href="#b" x="689.9" y="1726.0"/>
<use href="#b" x="1138.2" y="1297.7"/>
<use href="#b" x="652.4" y="1812.6"/>
<use href="#b" x="740.4" y="1701.1"/>
<use href="#b" x="1221.5" y="1228.6"/>
<use href="#b" x="1035.5" y="1465.6"/>
<use href="#b" x="1003.7" y="1385.5"/>
<use href="#b" x="989.1" y="1379.8"/>
<use href="#b" x="893.6" y="1473.1"/>
<use href="#b" x="1074.9" y="1379.0"/>
<use href="#b" x="777.7" y="1675.9"/>
<use href="#b" x="837.0" y="1594.6"/>
<use href="#b" x="866.9" y="1525.1"/>
<use href="#b" x="835.9" y="1641.9"/>
<use href="#b" x="837.0" y="1624.8"/>
<use href="#b" x="904.8" y="1508.2"/>
<use href="#b" x="958.9" y="1470.2"/>
<use href="#b" x="1072.4" y="1332.8"/>
<use href="#b" x="1012.5" y="1382.9"/>
<use href="#b" x="1058.4" y="1422.2"/>
<use href="#b" x="985.3" y="1452.1"/>
<use href="#b" x="883.5" y="1612.3"/>
<use href="#b" x="1047.6" y="1365.4"/>
<use href="#b" x="733.6" y="1672.5"/>
<use href="#b" x="1145.5" y="1289.2"/>
<use href="#b" x="996.3" y="1524.3"/>
<use href="#b" x="1110.9" y="1326.3"/>
<use href="#b" x="598.1" y="1829.3"/>
<use href="#b" x="920.1" y="1582.7"/>
<use href="#b" x="683.6" y="1751.5"/>
<use href="#b" x="944.5" y="1445.8"/>
<use href="#b" x="850.0" y="1515.6"/>
<use href="#b" x="880.5" y="1592.2"/>
<use href="#b" x="743.1" y="1651.3"/>
<use href="#b" x="1018.1" y="1450.1"/>
<use href="#b" x="1150.2" y="1327.6"/>
<use href="#b" x="1051.6" y="1425.9"/>
<use href="#b" x="982.2" y="1515.3"/>
<use href="#b" x="963.4" y="1541.3"/>
<use href="#b" x="785.9" y="1605.7"/>
<use href="#b" x="1025.1" y="1364.6"/>
<use href="#b" x="1095.6" y="1378.2"/>
<use href="#b" x="808.7" y="1667.0"/>
<use href="#b" x="1045.6" y="1409.3"/>
<use href="#b" x="998.3" y="1495.4"/>
<use href="#b" x="1189.9" y="1261.8"/>
<use href="#b" x="853.9" y="1553.0"/>
<use href="#b" x="842.8" y="1600.2"/>
<use href="#b" x="629.0" y="1804.2"/>
<use href="#b" x="842.7" y="1532.2"/>
<use href="#b" x="988.0" y="1436.5"/>
<use href="#b" x="818.7" y="1565.4"/>
<use href="#b" x="917.9" y="1494.5"/>
<use href="#b" x="1046.2" y="1341.6"/>
<use href="#b" x="1272.3" y="1181.7"/>
<use href="#b" x="754.1" y="1629.0"/>
<use href="#b" x="1010.9" y="1478.7"/>
<use href="#b" x="982.0" y="1479.3"/>
<use href="#b" x="984.9" y="1396.8"/>
<use href="#b" x="772.5" y="1590.0"/>
<use href="#b" x="720.7" y="1677.5"/>
<use href="#b" x="819.9" y="1623.4"/>
<use href="#b" x="1065.1" y="1419.8"/>
<use href="#b" x="1069.3" y="1337.0"/>
<use href="#b" x="736.3" y="1712.0"/>
<use href="#b" x="1033.8" y="1469.1"/>
<use href="#b" x="1103.1" y="1333.1"/>
<use href="#b" x="906.3" y="1535.3"/>
<use href="#b" x="1080.5" y="1368.5"/>
<use href="#b" x="1118.0" y="1336.3"/>
<use href="#b" x="746.6" y="1697.3"/>
<use href="#b" x="977.4" y="1407.3"/>
<use href="#b" x="1122.1" y="1276.7"/>
<use href="#b" x="1028.1" y="1436.6"/>
<use href="#b" x="694.2" y="1749.1"/>
<use href="#b" x="1070.7" y="1384.4"/>
<use href="#b" x="978.7" y="1415.6"/>
<use href="#b" x="934.7" y="1543.7"/>
<use href="#b" x="972.7" y="1524.4"/>
<use href="#b" x="953.9" y="1530.9"/>
<use href="#b" x="737.6" y="1653.4"/>
<use href="#b" x="1052.3" y="1344.3"/>
<use href="#b" x="742.8" y="1710.8"/>
<use href="#b" x="907.8" y="1498.6"/>
<use href="#b" x="1051.7" y="1369.7"/>
<use href="#b" x="880.7" y="1495.5"/>
<use href="#b" x="674.1" y="1766.2"/>
<use href="#b" x="966.3" y="1535.6"/>
<use href="#b" x="1065.7" y="1409.6"/>
<use href="#b" x="976.2" y="1527.8"/>
<use href="#b" x="1063.2" y="1390.4"/>
<use href="#b" x="877.8" y="1519.6"/>
<use href="#b" x="637.5" y="1808.2"/>
<use href="#b" x="1141.4" y="1268.9"/>
<use href="#b" x="715.6" y="1706.8"/>
<use href="#b" x="1053.1" y="1383.5"/>
<use href="#b" x="807.2" y="1575.6"/>
<use href="#b" x="688.0" y="1703.1"/>
<use href="#b" x="1120.1" y="1304.4"/>
<use href="#b" x="972.6" y="1463.4"/>
<use href="#b" x="1134.0" y="1282.5"/>
<use href="#b" x="1080.6" y="1366.2"/>
<use href="#b" x="639.4" y="1791.3"/>
<use href="#b" x="877.3" y="1559.3"/>
<use href="#b" x="959.3" y="1439.8"/>
<use href="#b" x="722.3" y="1699.7"/>
<use href="#b" x="1055.4" y="1375.3"/>
<use href="#b" x="845.5" y="1563.2"/>
<use href="#b" x="936.0" y="1528.1"/>
<use href="#b" x="912.0" y="1485.6"/>
<use href="#b" x="657.7" y="1794.4"/>
<use href="#b" x="700.7" y="1709.6"/>
<use href="#b" x="787.9" y="1654.4"/>
<use href="#b" x="856.6" y="1591.3"/>
<use href="#b" x="942.2" y="1441.9"/>
<use href="#b" x="837.1" y="1614.0"/>
<use href="#b" x="1025.8" y="1462.0"/>
<use href="#b" x="618.9" y="1801.6"/>
<use href="#b" x="1101.8" y="1338.2"/>
<use href="#b" x="1151.6" y="1271.8"/>
<use href="#b" x="585.7" y="1853.6"/>
<use href="#b" x="769.7" y="1648.1"/>
<use href="#b" x="1034.5" y="1378.1"/>
<use href="#b" x="1099.9" y="1341.3"/>
<use href="#b" x="1085.1" y="1370.9"/>
<use href="#b" x="969.3" y="1381.0"/>
<use href="#b" x="954.7" y="1420.1"/>
<use href="#b" x="703.1" y="1725.9"/>
<use href="#b" x="821.0" y="1642.8"/>
<use href="#b" x="954.7" y="1510.1"/>
<use href="#b" x="1147.9" y="1306.8"/>
<use href="#b" x="744.2" y="1640.2"/>
<use href="#b" x="871.5" y="1535.3"/>
<use href="#b" x="926.0" y="1475.4"/>
<use href="#b" x="993.7" y="1415.6"/>
<use href="#b" x="865.1" y="1503.5"/>
<use href="#b" x="1092.6" y="1333.1"/>
<use href="#b" x="837.4" y="1582.4"/>
<use href="#b" x="804.7" y="1567.3"/>
<use href="#b" x="985.0" y="1370.3"/>
<use href="#b" x="1036.3" y="1368.0"/>
<use href="#b" x="976.7" y="1386.6"/>
<use href="#b" x="1061.2" y="1389.9"/>
<use href="#b" x="1207.0" y="1221.8"/>
<use href="#b" x="1126.4" y="1339.5"/>
<use href="#b" x="722.7" y="1713.9"/>
<use href="#b" x="657.3" y="1817.5"/>
<use href="#b" x="1099.0" y="1330.6"/>
<use href="#b" x="1015.9" y="1453.5"/>
<use href="#b" x="693.8" y="1731.3"/>
<use href="#b" x="744.0" y="1673.5"/>
<use href="#b" x="1134.7" y="1325.0"/>
<use href="#b" x="1039.9" y="1444.3"/>
<use href="#b" x="1135.4" y="1291.1"/>
<use href="#b" x="913.3" y="1555.7"/>
<use href="#b" x="980.2" y="1382.3"/>
<use href="#b" x="668.0" y="1732.4"/>
<use href="#b" x="851.8" y="1608.0"/>
<use href="#b" x="843.3" y="1499.1"/>
<use href="#b" x="680.0" y="1762.8"/>
<use href="#b" x="738.3" y="1665.5"/>
<use href="#b" x="829.4" y="1568.0"/>
<use href="#b" x="781.8" y="1589.4"/>
<use href="#b" x="920.1" y="1490.0"/>
<use href="#b" x="706.6" y="1709.5"/>
<use href="#b" x="824.3" y="1627.0"/>
<use href="#b" x="1207.4" y="1268.6"/>
<use href="#b" x="938.3" y="1515.4"/>
<use href="#b" x="982.0" y="1511.0"/>
<use href="#b" x="1017.1" y="1455.1"/>
<use href="#b" x="833.5" y="1565.1"/>
<use href="#b" x="824.3" y="1604.7"/>
<use href="#b" x="1147.4" y="1273.6"/>
<use href="#b" x="938.4" y="1519.2"/>
<use href="#b" x="1082.9" y="1338.8"/>
<use href="#b" x="955.6" y="1463.6"/>
<use href="#b" x="787.8" y="1593.8"/>
<use href="#b" x="616.9" y="1805.4"/>
<use href="#b" x="822.5" y="1587.1"/>
<use href="#b" x="1009.7" y="1456.4"/>
<use href="#b" x="1034.4" y="1424.2"/>
<use href="#b" x="696.9" y="1773.0"/>
<use href="#b" x="953.7" y="1455.2"/>
<use href="#b" x="1172.7" y="1271.6"/>
<use href="#b" x="1049.3" y="1344.6"/>
<use href="#b" x="1095.3" y="1314.3"/>
<use href="#b" x="910.4" y="1561.7"/>
<use href="#b" x="833.8" y="1611.4"/>
<use href="#b" x="1205.3" y="1231.8"/>
<use href="#b" x="1229.8" y="1200.9"/>
<use href="#b" x="832.3" y="1584.9"/>
<use href="#b" x="1165.2" y="1287.5"/>
<use href="#b" x="815.9" y="1603.3"/>
<use href="#b" x="1259.2" y="1189.4"/>
<use href="#b" x="1218.6" y="1240.5"/>
<use href="#b" x="663.9" y="1764.2"/>
<use href="#b" x="648.9" y="1781.1"/>
<use href="#b" x="669.0" y="1784.5"/>
<use href="#b" x="932.5" y="1467.8"/>
<use href="#b" x="1016.3" y="1418.4"/>
<use href="#b" x="1050.3" y="1398.4"/>
<use href="#b" x="786.5" y="1595.7"/>
<use href="#b" x="959.7" y="1550.2"/>
<use href="#b" x="913.7" y="1450.7"/>
<use href="#b" x="830.0" y="1573.6"/>
<use href="#b" x="892.1" y="1500.5"/>
<use href="#b" x="1172.6" y="1281.0"/>
<use href="#b" x="1111.7" y="1290.6"/>
<use href="#b" x="1117.3" y="1349.5"/>
<use href="#b" x="1190.2" y="1247.0"/>
<use href="#b" x="726.9" y="1685.8"/>
<use href="#b" x="820.7" y="1569.1"/>
<use href="#b" x="703.5" y="1667.9"/>
<use href="#b" x="1145.7" y="1296.7"/>
<use href="#b" x="620.0" y="1826.7"/>
<use href="#b" x="980.0" y="1391.4"/>
<use href="#b" x="918.0" y="1480.4"/>
<use href="#b" x="1206.5" y="1240.5"/>
<use href="#b" x="947.5" y="1463.4"/>
<use href="#b" x="1101.8" y="1362.4"/>
<use href="#b" x="920.3" y="1522.8"/>
<use href="#b" x="991.5" y="1437.6"/>
<use href="#b" x="853.1" y="1595.9"/>
<use href="#b" x="844.7" y="1603.5"/>
<use href="#b" x="1250.8" y="1211.2"/>
<use href="#b" x="935.3" y="1460.3"/>
<use href="#b" x="1099.7" y="1348.1"/>
<use href="#b" x="1236.0" y="1226.3"/>
<use href="#b" x="852.6" y="1562.5"/>
<use href="#b" x="1094.0" y="1356.5"/>
<use href="#b" x="907.9" y="1582.5"/>
<use href="#b" x="685.1" y="1723.2"/>
<use href="#b" x="915.2" y="1494.1"/>
<use href="#b" x="832.5" y="1569.5"/>
<use href="#b" x="892.6" y="1482.9"/>
<use href="#b" x="848.0" y="1621.4"/>
<use href="#b" x="854.5" y="1510.6"/>
<use href="#b" x="620.5" y="1815.1"/>
<use href="#b" x="1112.9" y="1319.4"/>
<use href="#b" x="630.7" y="1833.3"/>
<use href="#b" x="1123.8" y="1329.0"/>
<use href="#b" x="963.1" y="1427.2"/>
<use href="#b" x="923.3" y="1552.1"/>
<use href="#b" x="869.7" y="1569.5"/>
<use href="#b" x="899.6" y="1467.6"/>
<use href="#b" x="730.0" y="1740.9"/>
<use href="#b" x="985.7" y="1515.9"/>
<use href="#b" x="983.9" y="1507.3"/>
<use href="#b" x="649.4" y="1795.6"/>
<use href="#b" x="960.9" y="1435.9"/>
<use href="#b" x="1079.4" y="1334.8"/>
<use href="#b" x="845.9" y="1537.9"/>
<use href="#b" x="632.0" y="1814.6"/>
<use href="#b" x="799.8" y="1649.3"/>
<use href="#b" x="994.9" y="1486.2"/>
<use href="#b" x="731.7" y="1706.3"/>
<use href="#b" x="1231.8" y="1256.0"/>
<use href="#b" x="778.3" y="1632.6"/>
<use href="#b" x="788.8" y="1563.6"/>
<use href="#b" x="787.3" y="1579.2"/>
<use href="#b" x="831.5" y="1565.1"/>
<use href="#b" x="804.5" y="1619.8"/>
<use href="#b" x="795.2" y="1588.5"/>
<use href="#b" x="989.9" y="1450.7"/>
<use href="#b" x="609.5" y="1822.9"/>
<use href="#b" x="943.1" y="1525.1"/>
<use href="#b" x="855.7" y="1538.0"/>
<use href="#b" x="593.7" y="1842.6"/>
<use href="#b" x="1106.9" y="1365.0"/>
<use href="#b" x="1135.0" y="1287.7"/>
<use href="#b" x="1019.1" y="1466.0"/>
<use href="#b" x="995.7" y="1468.9"/>
<use href="#b" x="898.1" y="1555.4"/>
<use href="#b" x="882.8" y="1561.0"/>
<use href="#b" x="710.6" y="1760.3"/>
<use href="#b" x="1141.4" y="1276.7"/>
<use href="#b" x="925.9" y="1555.5"/>
<use href="#b" x="875.2" y="1547.4"/>
<use href="#b" x="809.7" y="1564.8"/>
<use href="#b" x="653.5" y="1763.1"/>
<use href="#b" x="730.2" y="1720.0"/>
<use href="#b" x="816.4" y="1648.3"/>
<use href="#b" x="673.5" y="1812.2"/>
<use href="#b" x="651.4" y="1756.3"/>
<use href="#b" x="781.6" y="1654.0"/>
<use href="#b" x="809.4" y="1607.4"/>
<use href="#b" x="1202.4" y="1239.7"/>
<use href="#b" x="840.5" y="1628.4"/>
<use href="#b" x="961.3" y="1414.2"/>
<use href="#b" x="836.9" y="1597.3"/>
<use href="#b" x="754.8" y="1637.2"/>
<use href="#b" x="1151.0" y="1254.9"/>
<use href="#b" x="1128.3" y="1315.7"/>
<use href="#b" x="1092.3" y="1325.5"/>
<use href="#b" x="1136.0" y="1335.0"/>
<use href="#b" x="791.5" y="1680.7"/>
<use href="#b" x="987.1" y="1411.8"/>
<use href="#b" x="891.2" y="1507.2"/>
<use href="#b" x="613.9" y="1826.4"/>
<use href="#b" x="982.7" y="1507.3"/>
<use href="#b" x="912.5" y="1575.2"/>
<use href="#b" x="843.1" y="1562.6"/>
<use href="#b" x="952.2" y="1478.6"/>
<use href="#b" x="815.9" y="1580.6"/>
<use href="#b" x="1149.5" y="1330.1"/>
<use href="#b" x="1153.9" y="1320.7"/>
<use href="#b" x="982.9" y="1395.2"/>
<use href="#b" x="944.9" y="1512.4"/>
<use href="#b" x="941.0" y="1494.7"/>
<use href="#b" x="748.0" y="1646.6"/>
<use href="#b" x="834.6" y="1602.0"/>
<use href="#b" x="1017.8" y="1391.1"/>
<use href="#b" x="928.3" y="1584.3"/>
<use href="#b" x="975.8" y="1523.0"/>
<use href="#b" x="708.9" y="1741.9"/>
<use href="#b" x="1011.6" y="1489.5"/>
<use href="#b" x="934.0" y="1470.7"/>
<use href="#b" x="776.7" y="1601.0"/>
<use href="#b" x="1205.1" y="1225.7"/>
<use href="#b" x="800.4" y="1644.7"/>
<use href="#b" x="1112.2" y="1300.7"/>
<use href="#b" x="1128.1" y="1278.1"/>
<use href="#b" x="1045.5" y="1354.9"/>
<use href="#b" x="733.7" y="1678.0"/>
<use href="#b" x="898.9" y="1498.4"/>
<use href="#b" x="1013.5" y="1472.7"/>
<use href="#b" x="869.8" y="1585.0"/>
<use href="#b" x="889.0" y="1562.9"/>
<use href="#b" x="1010.6" y="1441.6"/>
<use href="#b" x="852.3" y="1582.2"/>
<use href="#b" x="714.3" y="1698.0"/>
<use href="#b" x="1068.3" y="1376.0"/>
<use href="#b" x="679.8" y="1745.9"/>
<use href="#b" x="724.8" y="1726.4"/>
<use href="#b" x="1153.7" y="1264.7"/>
<use href="#b" x="739.8" y="1677.6"/>
<use href="#b" x="975.9" y="1400.9"/>
<use href="#b" x="791.0" y="1569.1"/>
<use href="#b" x="923.8" y="1589.9"/>
<use href="#b" x="1007.5" y="1489.6"/>
<use href="#b" x="1209.6" y="1240.9"/>
<use href="#b" x="886.5" y="1507.1"/>
<use href="#b" x="1093.2" y="1294.4"/>
<use href="#b" x="834.9" y="1569.3"/>
<use href="#b" x="832.5" y="1542.5"/>
<use href="#b" x="909.8" y="1590.7"/>
<use href="#b" x="952.3" y="1420.4"/>
<use href="#b" x="654.4" y="1767.8"/>
<use href="#b" x="817.1" y="1615.1"/>
<use href="#b" x="902.4" y="1577.9"/>
<use href="#b" x="774.5" y="1641.9"/>
<use href="#b" x="766.9" y="1668.2"/>
<use href="#b" x="803.3" y="1620.4"/>
<use href="#b" x="716.8" y="1695.6"/>
<use href="#b" x="933.6" y="1476.7"/>
<use href="#b" x="981.5" y="1499.5"/>
<use href="#b" x="1043.5" y="1347.1"/>
<use href="#b" x="977.5" y="1497.1"/>
<use href="#b" x="538.3" y="1884.3"/>
<use href="#b" x="547.9" y="1888.2"/>
<use href="#b" x="556.4" y="1894.1"/>
<use href="#b" x="569.9" y="1861.0"/>
<use href="#b" x="582.8" y="1862.3"/>
<use href="#b" x="620.3" y="1842.9"/>
<use href="#b" x="660.5" y="1818.3"/>
<use href="#b" x="676.0" y="1810.6"/>
<use href="#b" x="718.7" y="1782.1"/>
<use href="#b" x="624.2" y="1752.3"/>
<use href="#b" x="734.2" y="1752.3"/>
<use href="#b" x="745.9" y="1722.6"/>
<use href="#b" x="659.2" y="1720.0"/>
<use href="#b" x="672.1" y="1692.8"/>
<use href="#b" x="780.8" y="1686.3"/>
<use href="#b" x="805.4" y="1668.2"/>
<use href="#b" x="819.6" y="1652.7"/>
<use href="#b" x="831.3" y="1648.8"/>
<use href="#b" x="701.9" y="1665.6"/>
<use href="#b" x="713.5" y="1633.8"/>
<use href="#b" x="725.9" y="1611.8"/>
<use href="#b" x="748.4" y="1613.9"/>
<use href="#b" x="760.1" y="1591.9"/>
<use href="#b" x="776.1" y="1539.3"/>
<use href="#b" x="808.0" y="1522.0"/>
<use href="#b" x="918.5" y="1635.4"/>
<use href="#b" x="849.4" y="1629.4"/>
<use href="#b" x="954.2" y="1588.0"/>
<use href="#b" x="973.6" y="1568.6"/>
<use href="#b" x="899.8" y="1603.5"/>
<use href="#b" x="1080.3" y="1171.2"/>
<use href="#b" x="1208.9" y="1175.0"/>
<use href="#b" x="1193.4" y="1185.4"/>
<use href="#b" x="1106.7" y="1226.8"/>
<use href="#b" x="1113.1" y="1234.6"/>
<use href="#b" x="1114.4" y="1252.7"/>
<use href="#b" x="1136.4" y="1239.8"/>
<use href="#b" x="1175.3" y="1226.8"/>
<use href="#b" x="1037.6" y="1283.2"/>
<use href="#b" x="1087.3" y="1281.2"/>
<use href="#b" x="973.4" y="1325.2"/>
<use href="#b" x="996.7" y="1349.7"/>
<use href="#b" x="976.0" y="1364.0"/>
<use href="#b" x="906.1" y="1408.0"/>
<use href="#b" x="937.2" y="1393.7"/>
<use href="#b" x="876.3" y="1448.1"/>
<use href="#b" x="864.7" y="1453.3"/>
<use href="#b" x="837.5" y="1480.4"/>
<use href="#b" x="1292.2" y="1312.2"/>
<use href="#b" x="1240.0" y="1296.7"/>
<use href="#b" x="1258.1" y="1254.0"/>
<use href="#b" x="1214.1" y="1316.1"/>
<use href="#b" x="1211.5" y="1307.0"/>
<use href="#b" x="1203.7" y="1360.6"/>
<use href="#b" x="1183.0" y="1327.7"/>
<use href="#b" x="1175.3" y="1361.4"/>
<use href="#b" x="1154.6" y="1366.6"/>
<use href="#b" x="1133.9" y="1401.0"/>
<use href="#b" x="1097.6" y="1453.3"/>
<use href="#b" x="1092.4" y="1444.2"/>
<use href="#b" x="1084.7" y="1423.5"/>
<use href="#b" x="1064.0" y="1472.7"/>
<use href="#b" x="1048.4" y="1485.6"/>
<use href="#b" x="1010.9" y="1521.8"/>
<use href="#b" x="976.0" y="1567.1"/>
<use href="#b" x="955.3" y="1584.0"/>
<use href="#b" x="571.0" y="1861.0"/>
<use href="#b" x="577.0" y="1866.0"/>
<use href="#b" x="583.0" y="1861.0"/>
<use href="#b" x="586.0" y="1857.0"/>
<use href="#b" x="575.0" y="1856.0"/>
<use href="#b" x="812.5" y="1519.5"/>
<use href="#b" x="869.0" y="1452.5"/>
<use href="#b" x="880.4" y="1454.5"/>
<use href="#b" x="900.3" y="1611.9"/>
<use href="#b" x="850.6" y="1635.1"/>
<use href="#b" x="832.4" y="1651.6"/>
<use href="#b" x="805.9" y="1684.8"/>
<use href="#b" x="786.0" y="1694.7"/>
<use href="#b" x="1029.4" y="1329.4"/>
<use href="#b" x="1037.7" y="1324.4"/>
<use href="#b" x="1065.9" y="1301.2"/>
<use href="#b" x="1077.5" y="1296.3"/>
<use href="#b" x="1180.2" y="1317.8"/>
<use href="#b" x="1176.9" y="1284.7"/>
<use href="#b" x="1178.5" y="1287.5"/>
<use href="#b" x="1264.2" y="1208.9"/>
<use href="#b" x="1255.9" y="1232.1"/>
<use href="#b" x="1199.6" y="1208.9"/>
<use href="#b" x="1212.8" y="1210.6"/>
<use href="#b" x="1174.7" y="1227.2"/>
<use href="#b" x="1212.8" y="1305.0"/>
<use href="#b" x="1181.3" y="1324.9"/>
<use href="#b" x="1292.3" y="1142.7"/>
<use href="#b" x="1163.1" y="1174.2"/>
<use href="#b" x="1169.8" y="1169.2"/>
<use href="#b" x="1173.1" y="1165.9"/>
<use href="#b" x="1169.8" y="1185.8"/>
<use href="#b" x="1408.2" y="746.6"/>
<use href="#b" x="1428.4" y="801.2"/>
<use href="#b" x="1345.3" y="879.9"/>
<use href="#b" x="1373.3" y="877.8"/>
<use href="#b" x="1417.5" y="882.5"/>
<use href="#b" x="1321.3" y="954.4"/>
<use href="#b" x="1327.7" y="951.6"/>
<use href="#b" x="1330.8" y="949.7"/>
<use href="#b" x="1454.3" y="962.2"/>
<use href="#b" x="1322.6" y="1002.0"/>
<use href="#b" x="1410.6" y="998.9"/>
<use href="#b" x="1417.5" y="1018.8"/>
<use href="#b" x="1305.2" y="1026.6"/>
<use href="#b" x="1334.7" y="1030.0"/>
<use href="#b" x="1332.9" y="1042.9"/>
<use href="#b" x="1364.5" y="1039.5"/>
<use href="#b" x="1393.7" y="1046.3"/>
<use href="#b" x="1350.5" y="1060.2"/>
<use href="#b" x="1449.4" y="1086.1"/>
<use href="#b" x="1407.5" y="1093.4"/>
<use href="#b" x="1358.8" y="1096.5"/>
<use href="#b" x="1340.7" y="1102.4"/>
<use href="#b" x="1335.0" y="1137.9"/>
<use href="#b" x="1350.0" y="1176.7"/>
<use href="#b" x="1321.3" y="1190.4"/>
<use href="#b" x="1241.8" y="1110.7"/>
<use href="#b" x="1262.5" y="1115.9"/>
<use href="#b" x="1244.9" y="1141.3"/>
<use href="#b" x="1278.6" y="1093.4"/>
<use href="#b" x="1283.7" y="1092.1"/>
<use href="#b" x="1276.0" y="1094.7"/>
<use href="#b" x="1299.3" y="1106.3"/>
<use href="#b" x="1304.5" y="1105.0"/>
<use href="#b" x="1296.7" y="1114.1"/>
<use href="#b" x="1288.9" y="1150.3"/>
<use href="#b" x="1291.5" y="1145.1"/>
<use href="#b" x="1283.7" y="1160.7"/>
<use href="#b" x="1210.0" y="1178.8"/>
<use href="#b" x="1202.2" y="1184.0"/>
<use href="#b" x="1295.4" y="1181.4"/>
<use href="#b" x="1234.6" y="1174.9"/>
<use href="#o" x="1655.6" y="795.4"/>
<use href="#o" x="1709.7" y="746.4"/>
<use href="#o" x="1773.3" y="647.5"/>
<use href="#o" x="1759.7" y="750.6"/>
<use href="#o" x="1698.7" y="781.3"/>
<use href="#o" x="1689.7" y="757.1"/>
<use href="#o" x="1737.0" y="646.6"/>
<use href="#o" x="1821.5" y="578.9"/>
<use href="#o" x="1685.0" y="744.2"/>
<use href="#o" x="1787.7" y="671.6"/>
<use href="#o" x="1738.9" y="661.4"/>
<use href="#o" x="1828.6" y="584.6"/>
<use href="#o" x="1711.9" y="693.5"/>
<use href="#o" x="1828.0" y="620.8"/>
<use href="#o" x="1722.2" y="760.8"/>
<use href="#o" x="1688.6" y="739.9"/>
<use href="#o" x="1652.5" y="799.5"/>
<use href="#o" x="1684.6" y="715.2"/>
<use href="#o" x="1738.3" y="676.6"/>
<use href="#o" x="1798.2" y="616.1"/>
<use href="#o" x="1742.4" y="705.4"/>
<use href="#o" x="1847.4" y="613.4"/>
<use href="#o" x="1766.3" y="695.5"/>
<use href="#o" x="1717.0" y="730.1"/>
<use href="#o" x="1703.4" y="691.7"/>
<use href="#o" x="1792.9" y="641.4"/>
<use href="#o" x="1710.9" y="766.3"/>
<use href="#o" x="1697.9" y="741.4"/>
<use href="#o" x="1749.4" y="751.9"/>
<use href="#o" x="1779.3" y="705.7"/>
<use href="#o" x="1798.5" y="647.0"/>
<use href="#o" x="1698.4" y="691.7"/>
<use href="#o" x="1802.9" y="635.8"/>
<use href="#o" x="1802.3" y="674.4"/>
<use href="#o" x="1663.0" y="779.7"/>
<use href="#o" x="1726.1" y="651.4"/>
<use href="#o" x="1788.2" y="612.2"/>
<use href="#o" x="1711.5" y="658.3"/>
<use href="#o" x="1769.7" y="625.0"/>
<use href="#o" x="1704.0" y="759.5"/>
<use href="#o" x="1739.4" y="644.2"/>
<use href="#o" x="1705.6" y="761.5"/>
<use href="#o" x="1660.5" y="824.6"/>
<use href="#o" x="1758.6" y="687.7"/>
<use href="#o" x="1692.3" y="784.8"/>
<use href="#o" x="1823.4" y="621.3"/>
<use href="#o" x="1720.6" y="706.8"/>
<use href="#o" x="1752.6" y="681.7"/>
<use href="#o" x="1756.4" y="638.9"/>
<use href="#o" x="1766.3" y="659.7"/>
<use href="#o" x="1759.8" y="647.5"/>
<use href="#o" x="1805.0" y="583.6"/>
<use href="#o" x="1780.4" y="637.3"/>
<use href="#o" x="1801.3" y="650.4"/>
<use href="#o" x="1805.1" y="627.9"/>
<use href="#o" x="1800.3" y="672.4"/>
<use href="#o" x="1686.9" y="740.9"/>
<use href="#o" x="1675.5" y="757.7"/>
<use href="#o" x="1688.6" y="720.5"/>
<use href="#o" x="1745.8" y="719.1"/>
<use href="#o" x="1683.0" y="697.4"/>
<use href="#o" x="1737.9" y="708.1"/>
<use href="#o" x="1654.3" y="839.5"/>
<use href="#o" x="1717.7" y="690.2"/>
<use href="#o" x="1662.9" y="795.3"/>
<use href="#o" x="1819.8" y="636.4"/>
<use href="#o" x="1751.2" y="656.8"/>
<use href="#o" x="1750.0" y="642.1"/>
<use href="#o" x="1717.2" y="698.8"/>
<use href="#o" x="1716.7" y="649.8"/>
<use href="#o" x="1739.1" y="734.5"/>
<use href="#o" x="1654.4" y="822.8"/>
<use href="#o" x="1812.2" y="661.5"/>
<use href="#o" x="1816.2" y="589.0"/>
<use href="#o" x="1671.4" y="812.4"/>
<use href="#o" x="1672.5" y="801.5"/>
<use href="#o" x="1731.8" y="762.9"/>
<use href="#o" x="1761.8" y="730.4"/>
<use href="#o" x="1652.3" y="803.3"/>
<use href="#o" x="1726.7" y="691.6"/>
<use href="#o" x="1770.0" y="694.2"/>
<use href="#o" x="1713.1" y="720.4"/>
<use href="#o" x="1752.0" y="753.2"/>
<use href="#o" x="1725.7" y="720.9"/>
<use href="#o" x="1671.0" y="793.0"/>
<use href="#o" x="1715.2" y="654.2"/>
<use href="#o" x="1680.8" y="730.3"/>
<use href="#o" x="1664.7" y="808.8"/>
<use href="#o" x="1664.2" y="817.3"/>
<use href="#o" x="1678.5" y="750.7"/>
<use href="#o" x="1712.6" y="748.0"/>
<use href="#o" x="1746.6" y="691.7"/>
<use href="#o" x="1668.2" y="722.7"/>
<use href="#o" x="1799.5" y="597.5"/>
<use href="#o" x="1744.3" y="746.4"/>
<use href="#o" x="1736.9" y="714.0"/>
<use href="#o" x="1829.7" y="652.2"/>
<use href="#o" x="1709.9" y="774.5"/>
<use href="#o" x="1829.7" y="594.8"/>
<use href="#o" x="1670.0" y="788.9"/>
<use href="#o" x="1764.6" y="627.8"/>
<use href="#o" x="1745.0" y="633.3"/>
<use href="#o" x="1742.2" y="709.7"/>
<use href="#o" x="1687.0" y="725.8"/>
<use href="#o" x="1799.6" y="646.2"/>
<use href="#o" x="1767.5" y="627.7"/>
<use href="#o" x="1814.9" y="621.6"/>
<use href="#o" x="1733.6" y="743.2"/>
<use href="#o" x="1766.1" y="680.8"/>
<use href="#o" x="1745.2" y="709.3"/>
<use href="#o" x="1843.8" y="597.1"/>
<use href="#o" x="1699.1" y="655.4"/>
<use href="#o" x="1791.9" y="676.6"/>
<use href="#o" x="1663.7" y="788.6"/>
<use href="#o" x="1639.5" y="838.2"/>
<use href="#o" x="1765.7" y="734.8"/>
<use href="#o" x="1649.3" y="812.1"/>
<use href="#o" x="1699.5" y="684.1"/>
<use href="#o" x="1628.8" y="837.0"/>
<use href="#o" x="1729.5" y="734.7"/>
<use href="#o" x="1808.4" y="587.5"/>
<use href="#o" x="1698.5" y="686.1"/>
<use href="#o" x="1696.6" y="699.4"/>
<use href="#o" x="1702.7" y="684.1"/>
<use href="#o" x="1679.7" y="768.6"/>
<use href="#o" x="1772.5" y="605.5"/>
<use href="#o" x="1840.3" y="605.8"/>
<use href="#o" x="1656.6" y="780.1"/>
<use href="#o" x="1706.9" y="662.5"/>
<use href="#o" x="1698.3" y="764.9"/>
<use href="#o" x="1673.5" y="723.9"/>
<use href="#o" x="1782.8" y="672.9"/>
<use href="#o" x="1767.6" y="730.3"/>
<use href="#o" x="1634.0" y="839.0"/>
<use href="#o" x="1646.4" y="781.7"/>
<use href="#o" x="1720.2" y="658.2"/>
<use href="#o" x="1800.1" y="582.4"/>
<use href="#o" x="1763.1" y="677.3"/>
<use href="#o" x="1650.1" y="822.7"/>
<use href="#o" x="1741.2" y="736.1"/>
<use href="#o" x="1842.4" y="593.5"/>
<use href="#o" x="1787.1" y="596.2"/>
<use href="#o" x="1734.5" y="737.7"/>
<use href="#o" x="1693.2" y="688.7"/>
<use href="#o" x="1711.0" y="722.4"/>
<use href="#o" x="1657.9" y="787.3"/>
<use href="#o" x="1807.0" y="598.9"/>
<use href="#o" x="1727.6" y="648.5"/>
<use href="#o" x="1756.0" y="674.8"/>
<use href="#o" x="1766.6" y="634.3"/>
<use href="#o" x="1802.4" y="687.1"/>
<use href="#o" x="1774.8" y="660.7"/>
<use href="#o" x="1765.5" y="662.7"/>
<use href="#o" x="1700.1" y="765.6"/>
<use href="#o" x="1775.7" y="610.8"/>
<use href="#o" x="1737.5" y="704.8"/>
<use href="#o" x="1708.5" y="671.9"/>
<use href="#o" x="1683.9" y="758.0"/>
<use href="#o" x="1801.2" y="619.5"/>
<use href="#o" x="1659.4" y="795.8"/>
<use href="#o" x="1802.9" y="627.3"/>
<use href="#o" x="1655.1" y="803.0"/>
<use href="#o" x="1793.1" y="667.7"/>
<use href="#o" x="1770.3" y="633.4"/>
<use href="#o" x="1746.8" y="677.8"/>
<use href="#o" x="1756.9" y="618.8"/>
<use href="#o" x="1702.6" y="711.2"/>
<use href="#o" x="1821.1" y="614.8"/>
<use href="#o" x="1718.2" y="693.4"/>
<use href="#o" x="1740.1" y="634.8"/>
<use href="#o" x="1818.2" y="601.6"/>
<use href="#o" x="1663.4" y="770.8"/>
<use href="#o" x="1723.3" y="643.4"/>
<use href="#o" x="1702.1" y="778.7"/>
<use href="#o" x="1690.2" y="761.7"/>
<use href="#o" x="1730.0" y="724.5"/>
<use href="#o" x="1731.6" y="728.1"/>
<use href="#o" x="1716.7" y="729.2"/>
<use href="#o" x="1726.0" y="755.6"/>
<use href="#o" x="1762.9" y="698.9"/>
<use href="#o" x="1755.3" y="748.5"/>
<use href="#o" x="1779.2" y="677.7"/>
<use href="#o" x="1704.3" y="738.1"/>
<use href="#o" x="1706.1" y="706.4"/>
<use href="#o" x="1707.6" y="644.6"/>
<use href="#o" x="1719.3" y="772.7"/>
<use href="#o" x="1723.3" y="697.2"/>
<use href="#o" x="1755.8" y="724.8"/>
<use href="#o" x="1755.4" y="648.2"/>
<use href="#o" x="1766.8" y="713.7"/>
<use href="#o" x="1798.7" y="677.7"/>
<use href="#o" x="1756.7" y="656.1"/>
<use href="#o" x="1725.9" y="674.2"/>
<use href="#o" x="1767.9" y="722.2"/>
<use href="#o" x="1795.7" y="637.1"/>
<use href="#o" x="1747.1" y="676.7"/>
<use href="#o" x="1691.9" y="765.7"/>
<use href="#o" x="1772.7" y="708.8"/>
<use href="#o" x="1778.0" y="691.7"/>
<use href="#o" x="1811.5" y="602.2"/>
<use href="#o" x="1794.9" y="624.5"/>
<use href="#o" x="1701.8" y="775.3"/>
<use href="#o" x="1774.8" y="652.8"/>
<use href="#o" x="1685.9" y="770.9"/>
<use href="#o" x="1773.2" y="596.0"/>
<use href="#o" x="1696.2" y="727.8"/>
<use href="#o" x="1685.6" y="776.2"/>
<use href="#o" x="1649.7" y="840.9"/>
<use href="#o" x="1749.9" y="730.5"/>
<use href="#o" x="1782.0" y="681.2"/>
<use href="#o" x="1815.4" y="596.4"/>
<use href="#o" x="1701.4" y="657.4"/>
<use href="#o" x="1708.9" y="785.2"/>
<use href="#o" x="1660.3" y="771.9"/>
<use href="#o" x="1755.5" y="680.1"/>
<use href="#o" x="1638.8" y="820.1"/>
<use href="#o" x="1752.2" y="633.8"/>
<use href="#o" x="1731.5" y="654.9"/>
<use href="#o" x="1691.8" y="710.2"/>
<use href="#o" x="1692.3" y="782.2"/>
<use href="#o" x="1815.9" y="667.0"/>
<use href="#o" x="1731.0" y="713.9"/>
<use href="#o" x="1731.1" y="662.8"/>
<use href="#o" x="1697.3" y="694.2"/>
<use href="#o" x="1798.2" y="604.2"/>
<use href="#o" x="1805.2" y="643.3"/>
<use href="#o" x="1722.3" y="758.0"/>
<use href="#o" x="1719.7" y="661.2"/>
<use href="#o" x="1761.9" y="721.3"/>
<use href="#o" x="1695.6" y="662.3"/>
<use href="#o" x="1709.0" y="681.4"/>
<use href="#o" x="1767.6" y="662.4"/>
<use href="#o" x="1798.8" y="659.9"/>
<use href="#o" x="1716.5" y="747.0"/>
<use href="#o" x="1712.3" y="743.4"/>
<use href="#o" x="1756.2" y="633.8"/>
<use href="#o" x="1810.1" y="645.4"/>
<use href="#o" x="1765.0" y="666.9"/>
<use href="#o" x="1783.1" y="705.2"/>
<use href="#o" x="1664.4" y="809.5"/>
<use href="#o" x="1820.3" y="604.4"/>
<use href="#o" x="1791.3" y="638.9"/>
<use href="#o" x="1704.8" y="712.1"/>
<use href="#o" x="1796.6" y="647.5"/>
<use href="#o" x="1702.8" y="749.1"/>
<use href="#o" x="1814.8" y="659.4"/>
<use href="#o" x="1681.2" y="702.5"/>
<use href="#o" x="1770.6" y="723.2"/>
<use href="#o" x="1814.5" y="586.8"/>
<use href="#o" x="1702.1" y="724.1"/>
<use href="#o" x="1795.0" y="676.3"/>
<use href="#o" x="1662.4" y="759.6"/>
<use href="#o" x="1725.3" y="735.1"/>
<use href="#o" x="1696.0" y="724.7"/>
<use href="#o" x="1808.8" y="597.2"/>
<use href="#o" x="1723.2" y="685.7"/>
<use href="#o" x="1647.0" y="827.7"/>
<use href="#o" x="1832.8" y="590.9"/>
<use href="#o" x="1750.2" y="669.9"/>
<use href="#o" x="1788.0" y="625.8"/>
<use href="#o" x="1764.3" y="688.1"/>
<use href="#o" x="1781.5" y="650.3"/>
<use href="#o" x="1674.2" y="798.9"/>
<use href="#o" x="1763.2" y="629.1"/>
<use href="#o" x="1827.7" y="598.6"/>
<use href="#o" x="1714.2" y="656.9"/>
<use href="#o" x="1653.8" y="800.1"/>
<use href="#o" x="1704.4" y="745.7"/>
<use href="#o" x="1659.8" y="774.8"/>
<use href="#o" x="1800.7" y="655.0"/>
<use href="#o" x="1745.2" y="656.5"/>
<use href="#o" x="1726.1" y="718.8"/>
<use href="#o" x="1794.2" y="584.5"/>
<use href="#o" x="1793.8" y="653.2"/>
<use href="#o" x="1823.2" y="581.1"/>
<use href="#o" x="1831.9" y="581.6"/>
<use href="#o" x="1690.6" y="709.3"/>
<use href="#o" x="1658.4" y="825.6"/>
<use href="#o" x="1658.4" y="757.1"/>
<use href="#o" x="1680.1" y="760.0"/>
<use href="#o" x="1832.9" y="599.2"/>
<use href="#o" x="1752.5" y="710.8"/>
<use href="#o" x="1624.5" y="808.0"/>
<use href="#o" x="1731.9" y="753.6"/>
<use href="#o" x="1770.4" y="673.7"/>
<use href="#o" x="1788.8" y="669.5"/>
<use href="#o" x="1732.4" y="678.5"/>
<use href="#o" x="1753.2" y="738.5"/>
<use href="#o" x="1703.8" y="670.7"/>
<use href="#o" x="1806.2" y="601.4"/>
<use href="#o" x="1723.8" y="693.1"/>
<use href="#o" x="1785.6" y="674.7"/>
<use href="#o" x="1824.9" y="659.0"/>
<use href="#o" x="1647.9" y="782.6"/>
<use href="#o" x="1787.2" y="637.9"/>
<use href="#o" x="1669.1" y="751.0"/>
<use href="#o" x="1696.3" y="722.1"/>
<use href="#o" x="1738.8" y="699.2"/>
<use href="#o" x="1733.5" y="745.9"/>
<use href="#o" x="1732.3" y="729.6"/>
<use href="#o" x="1764.0" y="666.2"/>
<use href="#o" x="1777.8" y="635.6"/>
<use href="#o" x="1663.6" y="802.0"/>
<use href="#o" x="1734.7" y="758.8"/>
<use href="#o" x="1662.5" y="807.1"/>
<use href="#o" x="1782.7" y="677.6"/>
<use href="#o" x="1706.6" y="766.1"/>
<use href="#o" x="1772.3" y="614.4"/>
<use href="#o" x="1631.5" y="819.3"/>
<use href="#o" x="1651.2" y="782.0"/>
<use href="#o" x="1755.7" y="686.2"/>
<use href="#o" x="1641.2" y="830.6"/>
<use href="#o" x="1736.6" y="744.4"/>
<use href="#o" x="1772.6" y="732.6"/>
<use href="#o" x="1647.0" y="823.9"/>
<use href="#o" x="1782.6" y="605.3"/>
<use href="#o" x="1721.4" y="745.7"/>
<use href="#o" x="1693.3" y="723.6"/>
<use href="#o" x="1796.9" y="685.9"/>
<use href="#o" x="1718.1" y="686.9"/>
<use href="#o" x="1784.9" y="611.9"/>
<use href="#o" x="1653.4" y="801.7"/>
<use href="#o" x="1695.0" y="666.2"/>
<use href="#o" x="1530.2" y="960.1"/>
<use href="#o" x="1544.5" y="960.7"/>
<use href="#o" x="1625.5" y="915.9"/>
<use href="#o" x="1575.5" y="869.3"/>
<use href="#o" x="1606.6" y="874.5"/>
<use href="#o" x="1596.2" y="857.1"/>
<use href="#o" x="1659.6" y="869.3"/>
<use href="#o" x="1576.8" y="825.3"/>
<use href="#o" x="1601.4" y="818.8"/>
<use href="#o" x="1609.2" y="791.1"/>
<use href="#o" x="1611.7" y="787.3"/>
<use href="#o" x="1698.4" y="808.5"/>
<use href="#o" x="1676.4" y="808.5"/>
<use href="#o" x="1631.2" y="841.6"/>
<use href="#o" x="1747.6" y="775.6"/>
<use href="#o" x="1653.2" y="756.7"/>
<use href="#o" x="1662.2" y="709.6"/>
<use href="#o" x="1684.2" y="641.8"/>
<use href="#o" x="1703.1" y="627.3"/>
<use href="#o" x="1736.0" y="606.9"/>
<use href="#o" x="1855.8" y="593.9"/>
<use href="#o" x="1827.8" y="559.5"/>
<use href="#o" x="1780.0" y="722.6"/>
<use href="#o" x="1808.4" y="678.6"/>
<use href="#o" x="1835.6" y="621.6"/>
<use href="#o" x="1668.0" y="705.0"/>
<use href="#o" x="1658.0" y="714.5"/>
<use href="#o" x="1812.0" y="563.0"/>
<use href="#o" x="1655.0" y="711.0"/>
<use href="#o" x="1817.4" y="666.0"/>
<circle cx="918.5" cy="1538.2" r="19.4" fill="#55a868"/>
</g>
<g stroke="#262626" stroke-width="6.8" fill="none">
<path d="M316.5 440.0 V2121.5 H1967.0"/>
<path d="M313.1 385.5 H1967.0"/>
<path d="M2020.5 440.0 V2124.9"/>
</g>
<g font-family="Liberation Sans, sans-serif" fill="#262626">
<text x="494.0" y="2220.6" font-size="65.6" text-anchor="middle" textLength="133.0" lengthAdjust="spacingAndGlyphs">0.00</text>
<text x="743.3" y="2220.6" font-size="65.6" text-anchor="middle" textLength="133.0" lengthAdjust="spacingAndGlyphs">0.25</text>
<text x="992.6" y="2220.6" font-size="65.6" text-anchor="middle" textLength="133.0" lengthAdjust="spacingAndGlyphs">0.50</text>
<text x="1242.0" y="2220.6" font-size="65.6" text-anchor="middle" textLength="133.0" lengthAdjust="spacingAndGlyphs">0.75</text>
<text x="1491.3" y="2220.6" font-size="65.6" text-anchor="middle" textLength="133.0" lengthAdjust="spacingAndGlyphs">1.00</text>
<text x="1740.6" y="2220.6" font-size="65.6" text-anchor="middle" textLength="133.0" lengthAdjust="spacingAndGlyphs">1.25</text>
<text x="262.6" y="1972.6" font-size="65.6" text-anchor="end" textLength="133.0" lengthAdjust="spacingAndGlyphs">0.00</text>
<text x="262.6" y="1748.1" font-size="65.6" text-anchor="end" textLength="133.0" lengthAdjust="spacingAndGlyphs">0.25</text>
<text x="262.6" y="1523.6" font-size="65.6" text-anchor="end" textLength="133.0" lengthAdjust="spacingAndGlyphs">0.50</text>
<text x="262.6" y="1299.1" font-size="65.6" text-anchor="end" textLength="133.0" lengthAdjust="spacingAndGlyphs">0.75</text>
<text x="262.6" y="1074.6" font-size="65.6" text-anchor="end" textLength="133.0" lengthAdjust="spacingAndGlyphs">1.00</text>
<text x="262.6" y="850.1" font-size="65.6" text-anchor="end" textLength="133.0" lengthAdjust="spacingAndGlyphs">1.25</text>
<text x="262.6" y="625.6" font-size="65.6" text-anchor="end" textLength="133.0" lengthAdjust="spacingAndGlyphs">1.50</text>
<text x="676.01" y="2307" font-size="68.5" textLength="314.09" lengthAdjust="spacingAndGlyphs">Predicted</text>
<text x="1012.61" y="2307" font-size="68.5" textLength="155.32" lengthAdjust="spacingAndGlyphs">from</text>
<text x="1189.30" y="2307" font-size="68.5" textLength="243.80" lengthAdjust="spacingAndGlyphs">Bottom</text>
<text x="1456.02" y="2307" font-size="68.5" textLength="146.14" lengthAdjust="spacingAndGlyphs">95%</text>
<text transform="translate(88.4 1687.32) rotate(-90)" font-size="68.5" textLength="313.38" lengthAdjust="spacingAndGlyphs">Predicted</text>
<text transform="translate(88.4 1351.13) rotate(-90)" font-size="68.5" textLength="155.31" lengthAdjust="spacingAndGlyphs">from</text>
<text transform="translate(88.4 1173.90) rotate(-90)" font-size="68.5" textLength="115.97" lengthAdjust="spacingAndGlyphs">Full</text>
<text transform="translate(88.4 1035.25) rotate(-90)" font-size="68.5" textLength="152.71" lengthAdjust="spacingAndGlyphs">Data</text>
</g>
</svg>
</body></html>
